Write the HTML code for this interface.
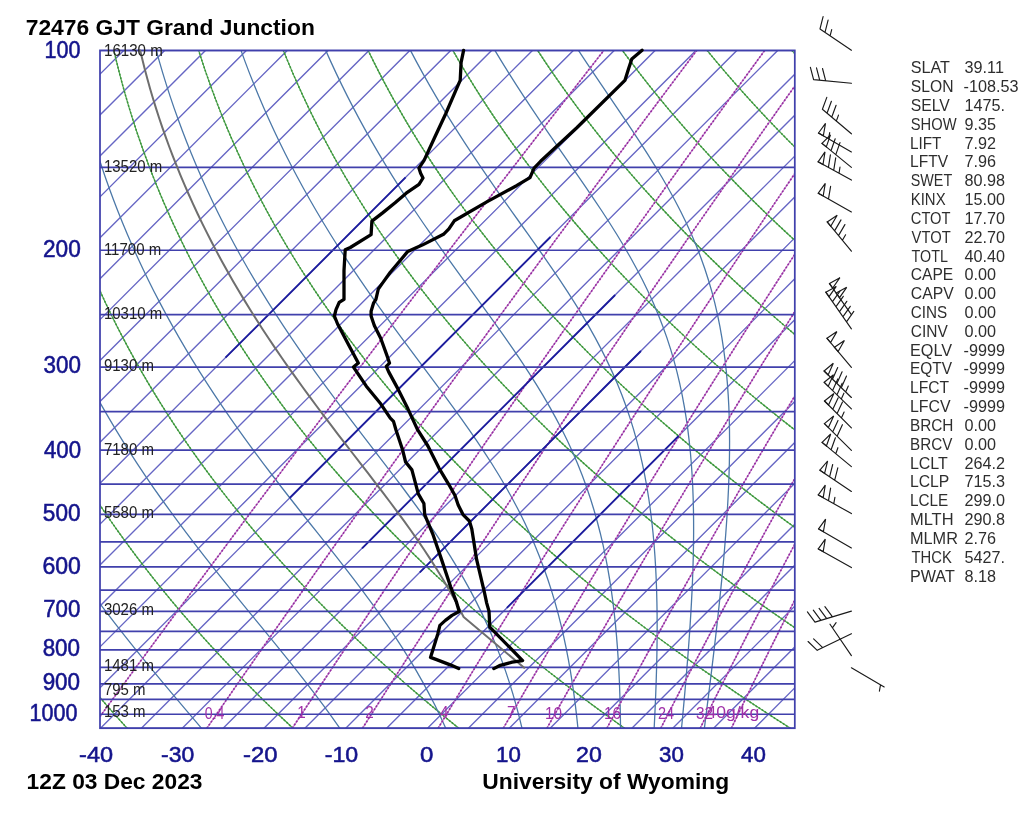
<!DOCTYPE html><html><head><meta charset="utf-8"><title>72476 GJT Grand Junction</title><style>
html,body{margin:0;padding:0;background:#fff;width:1024px;height:814px;overflow:hidden}
svg{display:block;filter:blur(0.3px)}
.t{font-family:"Liberation Sans",Arial,sans-serif}
</style></head><body>
<svg width="1024" height="814" viewBox="0 0 1024 814">
<rect width="1024" height="814" fill="#fff"/>
<defs><clipPath id="c"><rect x="100" y="50.4" width="694.8" height="677.8"/></clipPath></defs>
<g clip-path="url(#c)" fill="none">
<path d="M-635.25 728.2L41.97 50.4M-594.38 728.2L82.85 50.4M-553.5 728.2L123.72 50.4M-512.63 728.2L164.6 50.4M-471.75 728.2L205.47 50.4M-430.88 728.2L246.35 50.4M-390 728.2L287.22 50.4M-349.13 728.2L328.1 50.4M-308.25 728.2L368.97 50.4M-267.38 728.2L409.85 50.4M-226.5 728.2L450.72 50.4M-185.63 728.2L491.6 50.4M-144.75 728.2L532.47 50.4M-103.88 728.2L573.35 50.4M-63 728.2L614.22 50.4M-22.13 728.2L655.1 50.4M18.75 728.2L695.97 50.4M59.62 728.2L736.85 50.4M100.5 728.2L777.72 50.4M141.37 728.2L818.6 50.4M182.25 728.2L859.47 50.4M223.12 728.2L900.35 50.4M264 728.2L941.22 50.4M304.87 728.2L982.1 50.4M345.75 728.2L1022.97 50.4M386.62 728.2L1063.85 50.4M427.5 728.2L1104.72 50.4M468.37 728.2L1145.6 50.4M509.25 728.2L1186.47 50.4M550.12 728.2L1227.35 50.4M591 728.2L1268.22 50.4M631.87 728.2L1309.1 50.4M672.75 728.2L1349.97 50.4M713.62 728.2L1390.85 50.4M754.5 728.2L1431.72 50.4M795.37 728.2L1472.6 50.4M836.25 728.2L1513.47 50.4M877.12 728.2L1554.35 50.4" stroke="#6666c4" stroke-width="1.35"/>
<polyline points="-38.57,728.3 -47.07,716.81 -55.35,705.32 -63.41,693.83 -71.24,682.34 -78.86,670.85 -86.26,659.36 -93.45,647.87 -100.42,636.38 -107.19,624.89 -113.75,613.4 -120.11,601.91 -126.26,590.42 -132.22,578.93 -137.98,567.44 -143.54,555.95 -148.91,544.46 -154.09,532.97 -159.08,521.48 -163.89,509.99 -168.51,498.5 -172.95,487.01 -177.21,475.52 -181.29,464.03 -185.2,452.54 -188.93,441.06 -192.49,429.57 -195.88,418.08 -199.1,406.59 -202.15,395.1 -205.04,383.61 -207.77,372.12 -210.34,360.63 -212.75,349.14 -215,337.65 -217.1,326.16 -219.04,314.67 -220.83,303.18 -222.47,291.69 -223.96,280.2 -225.31,268.71 -226.51,257.22 -227.57,245.73 -228.48,234.24 -229.26,222.75 -229.89,211.26 -230.39,199.77 -230.76,188.28 -230.99,176.79 -231.08,165.3 -231.05,153.81 -230.89,142.32 -230.6,130.83 -230.18,119.34 -229.64,107.85 -228.97,96.36 -228.19,84.87 -227.28,73.38 -226.25,61.89 -225.1,50.4" stroke="#4ea24e" stroke-width="1.2"/>
<polyline points="-38.57,728.3 -47.07,716.81 -55.35,705.32 -63.41,693.83 -71.24,682.34 -78.86,670.85 -86.26,659.36 -93.45,647.87 -100.42,636.38 -107.19,624.89 -113.75,613.4 -120.11,601.91 -126.26,590.42 -132.22,578.93 -137.98,567.44 -143.54,555.95 -148.91,544.46 -154.09,532.97 -159.08,521.48 -163.89,509.99 -168.51,498.5 -172.95,487.01 -177.21,475.52 -181.29,464.03 -185.2,452.54 -188.93,441.06 -192.49,429.57 -195.88,418.08 -199.1,406.59 -202.15,395.1 -205.04,383.61 -207.77,372.12 -210.34,360.63 -212.75,349.14 -215,337.65 -217.1,326.16 -219.04,314.67 -220.83,303.18 -222.47,291.69 -223.96,280.2 -225.31,268.71 -226.51,257.22 -227.57,245.73 -228.48,234.24 -229.26,222.75 -229.89,211.26 -230.39,199.77 -230.76,188.28 -230.99,176.79 -231.08,165.3 -231.05,153.81 -230.89,142.32 -230.6,130.83 -230.18,119.34 -229.64,107.85 -228.97,96.36 -228.19,84.87 -227.28,73.38 -226.25,61.89 -225.1,50.4" stroke="#3a963a" stroke-width="1.5" stroke-dasharray="1.8 1.8"/>
<polyline points="127.22,728.3 116.84,716.81 106.71,705.32 96.82,693.83 87.18,682.34 77.77,670.85 68.59,659.36 59.66,647.87 50.95,636.38 42.47,624.89 34.22,613.4 26.19,601.91 18.38,590.42 10.78,578.93 3.41,567.44 -3.75,555.95 -10.71,544.46 -17.45,532.97 -23.99,521.48 -30.32,509.99 -36.45,498.5 -42.39,487.01 -48.12,475.52 -53.66,464.03 -59.01,452.54 -64.17,441.06 -69.14,429.57 -73.92,418.08 -78.53,406.59 -82.94,395.1 -87.18,383.61 -91.24,372.12 -95.13,360.63 -98.84,349.14 -102.38,337.65 -105.75,326.16 -108.95,314.67 -111.99,303.18 -114.86,291.69 -117.57,280.2 -120.12,268.71 -122.51,257.22 -124.74,245.73 -126.82,234.24 -128.74,222.75 -130.52,211.26 -132.14,199.77 -133.62,188.28 -134.95,176.79 -136.13,165.3 -137.17,153.81 -138.07,142.32 -138.83,130.83 -139.45,119.34 -139.93,107.85 -140.28,96.36 -140.5,84.87 -140.58,73.38 -140.53,61.89 -140.36,50.4" stroke="#4ea24e" stroke-width="1.2"/>
<polyline points="127.22,728.3 116.84,716.81 106.71,705.32 96.82,693.83 87.18,682.34 77.77,670.85 68.59,659.36 59.66,647.87 50.95,636.38 42.47,624.89 34.22,613.4 26.19,601.91 18.38,590.42 10.78,578.93 3.41,567.44 -3.75,555.95 -10.71,544.46 -17.45,532.97 -23.99,521.48 -30.32,509.99 -36.45,498.5 -42.39,487.01 -48.12,475.52 -53.66,464.03 -59.01,452.54 -64.17,441.06 -69.14,429.57 -73.92,418.08 -78.53,406.59 -82.94,395.1 -87.18,383.61 -91.24,372.12 -95.13,360.63 -98.84,349.14 -102.38,337.65 -105.75,326.16 -108.95,314.67 -111.99,303.18 -114.86,291.69 -117.57,280.2 -120.12,268.71 -122.51,257.22 -124.74,245.73 -126.82,234.24 -128.74,222.75 -130.52,211.26 -132.14,199.77 -133.62,188.28 -134.95,176.79 -136.13,165.3 -137.17,153.81 -138.07,142.32 -138.83,130.83 -139.45,119.34 -139.93,107.85 -140.28,96.36 -140.5,84.87 -140.58,73.38 -140.53,61.89 -140.36,50.4" stroke="#3a963a" stroke-width="1.5" stroke-dasharray="1.8 1.8"/>
<polyline points="293.02,728.3 280.76,716.81 268.77,705.32 257.05,693.83 245.59,682.34 234.39,670.85 223.45,659.36 212.76,647.87 202.32,636.38 192.13,624.89 182.18,613.4 172.48,601.91 163.02,590.42 153.79,578.93 144.8,567.44 136.03,555.95 127.5,544.46 119.19,532.97 111.11,521.48 103.25,509.99 95.61,498.5 88.18,487.01 80.97,475.52 73.97,464.03 67.17,452.54 60.59,441.06 54.21,429.57 48.03,418.08 42.05,406.59 36.27,395.1 30.68,383.61 25.28,372.12 20.08,360.63 15.07,349.14 10.24,337.65 5.6,326.16 1.13,314.67 -3.15,303.18 -7.25,291.69 -11.18,280.2 -14.93,268.71 -18.51,257.22 -21.92,245.73 -25.16,234.24 -28.23,222.75 -31.14,211.26 -33.89,199.77 -36.48,188.28 -38.91,176.79 -41.18,165.3 -43.29,153.81 -45.25,142.32 -47.06,130.83 -48.72,119.34 -50.23,107.85 -51.59,96.36 -52.81,84.87 -53.89,73.38 -54.82,61.89 -55.61,50.4" stroke="#4ea24e" stroke-width="1.2"/>
<polyline points="293.02,728.3 280.76,716.81 268.77,705.32 257.05,693.83 245.59,682.34 234.39,670.85 223.45,659.36 212.76,647.87 202.32,636.38 192.13,624.89 182.18,613.4 172.48,601.91 163.02,590.42 153.79,578.93 144.8,567.44 136.03,555.95 127.5,544.46 119.19,532.97 111.11,521.48 103.25,509.99 95.61,498.5 88.18,487.01 80.97,475.52 73.97,464.03 67.17,452.54 60.59,441.06 54.21,429.57 48.03,418.08 42.05,406.59 36.27,395.1 30.68,383.61 25.28,372.12 20.08,360.63 15.07,349.14 10.24,337.65 5.6,326.16 1.13,314.67 -3.15,303.18 -7.25,291.69 -11.18,280.2 -14.93,268.71 -18.51,257.22 -21.92,245.73 -25.16,234.24 -28.23,222.75 -31.14,211.26 -33.89,199.77 -36.48,188.28 -38.91,176.79 -41.18,165.3 -43.29,153.81 -45.25,142.32 -47.06,130.83 -48.72,119.34 -50.23,107.85 -51.59,96.36 -52.81,84.87 -53.89,73.38 -54.82,61.89 -55.61,50.4" stroke="#3a963a" stroke-width="1.5" stroke-dasharray="1.8 1.8"/>
<polyline points="458.81,728.3 444.68,716.81 430.84,705.32 417.28,693.83 404.01,682.34 391.02,670.85 378.31,659.36 365.86,647.87 353.69,636.38 341.79,624.89 330.15,613.4 318.77,601.91 307.66,590.42 296.79,578.93 286.18,567.44 275.82,555.95 265.71,544.46 255.84,532.97 246.21,521.48 236.82,509.99 227.67,498.5 218.75,487.01 210.06,475.52 201.6,464.03 193.36,452.54 185.35,441.06 177.55,429.57 169.98,418.08 162.62,406.59 155.48,395.1 148.54,383.61 141.81,372.12 135.29,360.63 128.97,349.14 122.86,337.65 116.94,326.16 111.22,314.67 105.69,303.18 100.36,291.69 95.22,280.2 90.26,268.71 85.49,257.22 80.91,245.73 76.5,234.24 72.28,222.75 68.23,211.26 64.36,199.77 60.66,188.28 57.14,176.79 53.78,165.3 50.59,153.81 47.57,142.32 44.71,130.83 42.01,119.34 39.48,107.85 37.1,96.36 34.88,84.87 32.81,73.38 30.9,61.89 29.14,50.4" stroke="#4ea24e" stroke-width="1.2"/>
<polyline points="458.81,728.3 444.68,716.81 430.84,705.32 417.28,693.83 404.01,682.34 391.02,670.85 378.31,659.36 365.86,647.87 353.69,636.38 341.79,624.89 330.15,613.4 318.77,601.91 307.66,590.42 296.79,578.93 286.18,567.44 275.82,555.95 265.71,544.46 255.84,532.97 246.21,521.48 236.82,509.99 227.67,498.5 218.75,487.01 210.06,475.52 201.6,464.03 193.36,452.54 185.35,441.06 177.55,429.57 169.98,418.08 162.62,406.59 155.48,395.1 148.54,383.61 141.81,372.12 135.29,360.63 128.97,349.14 122.86,337.65 116.94,326.16 111.22,314.67 105.69,303.18 100.36,291.69 95.22,280.2 90.26,268.71 85.49,257.22 80.91,245.73 76.5,234.24 72.28,222.75 68.23,211.26 64.36,199.77 60.66,188.28 57.14,176.79 53.78,165.3 50.59,153.81 47.57,142.32 44.71,130.83 42.01,119.34 39.48,107.85 37.1,96.36 34.88,84.87 32.81,73.38 30.9,61.89 29.14,50.4" stroke="#3a963a" stroke-width="1.5" stroke-dasharray="1.8 1.8"/>
<polyline points="624.6,728.3 608.6,716.81 592.9,705.32 577.51,693.83 562.43,682.34 547.65,670.85 533.16,659.36 518.97,647.87 505.07,636.38 491.45,624.89 478.12,613.4 465.07,601.91 452.3,590.42 439.8,578.93 427.57,567.44 415.61,555.95 403.91,544.46 392.48,532.97 381.31,521.48 370.39,509.99 359.73,498.5 349.31,487.01 339.15,475.52 329.22,464.03 319.55,452.54 310.11,441.06 300.9,429.57 291.93,418.08 283.19,406.59 274.69,395.1 266.4,383.61 258.34,372.12 250.5,360.63 242.88,349.14 235.48,337.65 228.29,326.16 221.31,314.67 214.54,303.18 207.97,291.69 201.61,280.2 195.45,268.71 189.49,257.22 183.73,245.73 178.16,234.24 172.79,222.75 167.6,211.26 162.61,199.77 157.8,188.28 153.18,176.79 148.73,165.3 144.47,153.81 140.39,142.32 136.48,130.83 132.74,119.34 129.18,107.85 125.79,96.36 122.56,84.87 119.51,73.38 116.61,61.89 113.88,50.4" stroke="#4ea24e" stroke-width="1.2"/>
<polyline points="624.6,728.3 608.6,716.81 592.9,705.32 577.51,693.83 562.43,682.34 547.65,670.85 533.16,659.36 518.97,647.87 505.07,636.38 491.45,624.89 478.12,613.4 465.07,601.91 452.3,590.42 439.8,578.93 427.57,567.44 415.61,555.95 403.91,544.46 392.48,532.97 381.31,521.48 370.39,509.99 359.73,498.5 349.31,487.01 339.15,475.52 329.22,464.03 319.55,452.54 310.11,441.06 300.9,429.57 291.93,418.08 283.19,406.59 274.69,395.1 266.4,383.61 258.34,372.12 250.5,360.63 242.88,349.14 235.48,337.65 228.29,326.16 221.31,314.67 214.54,303.18 207.97,291.69 201.61,280.2 195.45,268.71 189.49,257.22 183.73,245.73 178.16,234.24 172.79,222.75 167.6,211.26 162.61,199.77 157.8,188.28 153.18,176.79 148.73,165.3 144.47,153.81 140.39,142.32 136.48,130.83 132.74,119.34 129.18,107.85 125.79,96.36 122.56,84.87 119.51,73.38 116.61,61.89 113.88,50.4" stroke="#3a963a" stroke-width="1.5" stroke-dasharray="1.8 1.8"/>
<polyline points="790.4,728.3 772.51,716.81 754.97,705.32 737.75,693.83 720.85,682.34 704.27,670.85 688.02,659.36 672.07,647.87 656.44,636.38 641.11,624.89 626.09,613.4 611.36,601.91 596.94,590.42 582.8,578.93 568.95,567.44 555.4,555.95 542.12,544.46 529.12,532.97 516.41,521.48 503.96,509.99 491.79,498.5 479.88,487.01 468.24,475.52 456.85,464.03 445.73,452.54 434.86,441.06 424.25,429.57 413.89,418.08 403.77,406.59 393.89,395.1 384.26,383.61 374.87,372.12 365.71,360.63 356.79,349.14 348.1,337.65 339.63,326.16 331.39,314.67 323.38,303.18 315.58,291.69 308,280.2 300.64,268.71 293.49,257.22 286.55,245.73 279.82,234.24 273.3,222.75 266.98,211.26 260.86,199.77 254.94,188.28 249.22,176.79 243.69,165.3 238.35,153.81 233.2,142.32 228.25,130.83 223.47,119.34 218.89,107.85 214.48,96.36 210.25,84.87 206.2,73.38 202.33,61.89 198.63,50.4" stroke="#4ea24e" stroke-width="1.2"/>
<polyline points="790.4,728.3 772.51,716.81 754.97,705.32 737.75,693.83 720.85,682.34 704.27,670.85 688.02,659.36 672.07,647.87 656.44,636.38 641.11,624.89 626.09,613.4 611.36,601.91 596.94,590.42 582.8,578.93 568.95,567.44 555.4,555.95 542.12,544.46 529.12,532.97 516.41,521.48 503.96,509.99 491.79,498.5 479.88,487.01 468.24,475.52 456.85,464.03 445.73,452.54 434.86,441.06 424.25,429.57 413.89,418.08 403.77,406.59 393.89,395.1 384.26,383.61 374.87,372.12 365.71,360.63 356.79,349.14 348.1,337.65 339.63,326.16 331.39,314.67 323.38,303.18 315.58,291.69 308,280.2 300.64,268.71 293.49,257.22 286.55,245.73 279.82,234.24 273.3,222.75 266.98,211.26 260.86,199.77 254.94,188.28 249.22,176.79 243.69,165.3 238.35,153.81 233.2,142.32 228.25,130.83 223.47,119.34 218.89,107.85 214.48,96.36 210.25,84.87 206.2,73.38 202.33,61.89 198.63,50.4" stroke="#3a963a" stroke-width="1.5" stroke-dasharray="1.8 1.8"/>
<polyline points="956.19,728.3 936.43,716.81 917.03,705.32 897.98,693.83 879.27,682.34 860.9,670.85 842.87,659.36 825.18,647.87 807.81,636.38 790.77,624.89 774.06,613.4 757.66,601.91 741.57,590.42 725.8,578.93 710.34,567.44 695.18,555.95 680.33,544.46 665.77,532.97 651.5,521.48 637.53,509.99 623.84,498.5 610.44,487.01 597.32,475.52 584.48,464.03 571.92,452.54 559.62,441.06 547.6,429.57 535.84,418.08 524.34,406.59 513.1,395.1 502.12,383.61 491.4,372.12 480.92,360.63 470.7,349.14 460.72,337.65 450.98,326.16 441.48,314.67 432.22,303.18 423.19,291.69 414.4,280.2 405.83,268.71 397.49,257.22 389.38,245.73 381.49,234.24 373.81,222.75 366.35,211.26 359.11,199.77 352.08,188.28 345.26,176.79 338.64,165.3 332.23,153.81 326.02,142.32 320.02,130.83 314.21,119.34 308.59,107.85 303.17,96.36 297.94,84.87 292.9,73.38 288.04,61.89 283.37,50.4" stroke="#4ea24e" stroke-width="1.2"/>
<polyline points="956.19,728.3 936.43,716.81 917.03,705.32 897.98,693.83 879.27,682.34 860.9,670.85 842.87,659.36 825.18,647.87 807.81,636.38 790.77,624.89 774.06,613.4 757.66,601.91 741.57,590.42 725.8,578.93 710.34,567.44 695.18,555.95 680.33,544.46 665.77,532.97 651.5,521.48 637.53,509.99 623.84,498.5 610.44,487.01 597.32,475.52 584.48,464.03 571.92,452.54 559.62,441.06 547.6,429.57 535.84,418.08 524.34,406.59 513.1,395.1 502.12,383.61 491.4,372.12 480.92,360.63 470.7,349.14 460.72,337.65 450.98,326.16 441.48,314.67 432.22,303.18 423.19,291.69 414.4,280.2 405.83,268.71 397.49,257.22 389.38,245.73 381.49,234.24 373.81,222.75 366.35,211.26 359.11,199.77 352.08,188.28 345.26,176.79 338.64,165.3 332.23,153.81 326.02,142.32 320.02,130.83 314.21,119.34 308.59,107.85 303.17,96.36 297.94,84.87 292.9,73.38 288.04,61.89 283.37,50.4" stroke="#3a963a" stroke-width="1.5" stroke-dasharray="1.8 1.8"/>
<polyline points="1121.98,728.3 1100.35,716.81 1079.09,705.32 1058.21,693.83 1037.69,682.34 1017.53,670.85 997.73,659.36 978.28,647.87 959.18,636.38 940.43,624.89 922.02,613.4 903.95,601.91 886.21,590.42 868.81,578.93 851.73,567.44 834.97,555.95 818.53,544.46 802.41,532.97 786.6,521.48 771.1,509.99 755.9,498.5 741.01,487.01 726.41,475.52 712.11,464.03 698.1,452.54 684.38,441.06 670.95,429.57 657.79,418.08 644.91,406.59 632.31,395.1 619.99,383.61 607.93,372.12 596.13,360.63 584.6,349.14 573.34,337.65 562.32,326.16 551.57,314.67 541.06,303.18 530.8,291.69 520.79,280.2 511.02,268.71 501.49,257.22 492.2,245.73 483.15,234.24 474.32,222.75 465.73,211.26 457.36,199.77 449.22,188.28 441.3,176.79 433.6,165.3 426.11,153.81 418.84,142.32 411.78,130.83 404.94,119.34 398.3,107.85 391.86,96.36 385.63,84.87 379.59,73.38 373.76,61.89 368.12,50.4" stroke="#4ea24e" stroke-width="1.2"/>
<polyline points="1121.98,728.3 1100.35,716.81 1079.09,705.32 1058.21,693.83 1037.69,682.34 1017.53,670.85 997.73,659.36 978.28,647.87 959.18,636.38 940.43,624.89 922.02,613.4 903.95,601.91 886.21,590.42 868.81,578.93 851.73,567.44 834.97,555.95 818.53,544.46 802.41,532.97 786.6,521.48 771.1,509.99 755.9,498.5 741.01,487.01 726.41,475.52 712.11,464.03 698.1,452.54 684.38,441.06 670.95,429.57 657.79,418.08 644.91,406.59 632.31,395.1 619.99,383.61 607.93,372.12 596.13,360.63 584.6,349.14 573.34,337.65 562.32,326.16 551.57,314.67 541.06,303.18 530.8,291.69 520.79,280.2 511.02,268.71 501.49,257.22 492.2,245.73 483.15,234.24 474.32,222.75 465.73,211.26 457.36,199.77 449.22,188.28 441.3,176.79 433.6,165.3 426.11,153.81 418.84,142.32 411.78,130.83 404.94,119.34 398.3,107.85 391.86,96.36 385.63,84.87 379.59,73.38 373.76,61.89 368.12,50.4" stroke="#3a963a" stroke-width="1.5" stroke-dasharray="1.8 1.8"/>
<polyline points="1287.77,728.3 1264.27,716.81 1241.16,705.32 1218.44,693.83 1196.1,682.34 1174.15,670.85 1152.58,659.36 1131.38,647.87 1110.56,636.38 1090.09,624.89 1069.99,613.4 1050.25,601.91 1030.85,590.42 1011.81,578.93 993.11,567.44 974.76,555.95 956.74,544.46 939.05,532.97 921.7,521.48 904.67,509.99 887.96,498.5 871.58,487.01 855.5,475.52 839.74,464.03 824.29,452.54 809.14,441.06 794.29,429.57 779.74,418.08 765.49,406.59 751.52,395.1 737.85,383.61 724.46,372.12 711.34,360.63 698.51,349.14 685.95,337.65 673.67,326.16 661.65,314.67 649.9,303.18 638.41,291.69 627.18,280.2 616.21,268.71 605.49,257.22 595.03,245.73 584.81,234.24 574.83,222.75 565.1,211.26 555.61,199.77 546.36,188.28 537.34,176.79 528.55,165.3 519.99,153.81 511.66,142.32 503.55,130.83 495.67,119.34 488,107.85 480.55,96.36 473.31,84.87 466.29,73.38 459.47,61.89 452.86,50.4" stroke="#4ea24e" stroke-width="1.2"/>
<polyline points="1287.77,728.3 1264.27,716.81 1241.16,705.32 1218.44,693.83 1196.1,682.34 1174.15,670.85 1152.58,659.36 1131.38,647.87 1110.56,636.38 1090.09,624.89 1069.99,613.4 1050.25,601.91 1030.85,590.42 1011.81,578.93 993.11,567.44 974.76,555.95 956.74,544.46 939.05,532.97 921.7,521.48 904.67,509.99 887.96,498.5 871.58,487.01 855.5,475.52 839.74,464.03 824.29,452.54 809.14,441.06 794.29,429.57 779.74,418.08 765.49,406.59 751.52,395.1 737.85,383.61 724.46,372.12 711.34,360.63 698.51,349.14 685.95,337.65 673.67,326.16 661.65,314.67 649.9,303.18 638.41,291.69 627.18,280.2 616.21,268.71 605.49,257.22 595.03,245.73 584.81,234.24 574.83,222.75 565.1,211.26 555.61,199.77 546.36,188.28 537.34,176.79 528.55,165.3 519.99,153.81 511.66,142.32 503.55,130.83 495.67,119.34 488,107.85 480.55,96.36 473.31,84.87 466.29,73.38 459.47,61.89 452.86,50.4" stroke="#3a963a" stroke-width="1.5" stroke-dasharray="1.8 1.8"/>
<polyline points="1453.57,728.3 1428.18,716.81 1403.22,705.32 1378.67,693.83 1354.52,682.34 1330.78,670.85 1307.44,659.36 1284.49,647.87 1261.93,636.38 1239.75,624.89 1217.96,613.4 1196.54,601.91 1175.49,590.42 1154.82,578.93 1134.5,567.44 1114.55,555.95 1094.95,544.46 1075.7,532.97 1056.8,521.48 1038.24,509.99 1020.02,498.5 1002.14,487.01 984.59,475.52 967.37,464.03 950.47,452.54 933.9,441.06 917.64,429.57 901.7,418.08 886.06,406.59 870.73,395.1 855.71,383.61 840.98,372.12 826.56,360.63 812.42,349.14 798.57,337.65 785.01,326.16 771.74,314.67 758.74,303.18 746.02,291.69 733.58,280.2 721.4,268.71 709.49,257.22 697.85,245.73 686.47,234.24 675.34,222.75 664.48,211.26 653.86,199.77 643.5,188.28 633.38,176.79 623.51,165.3 613.87,153.81 604.48,142.32 595.32,130.83 586.4,119.34 577.71,107.85 569.24,96.36 561,84.87 552.98,73.38 545.19,61.89 537.61,50.4" stroke="#4ea24e" stroke-width="1.2"/>
<polyline points="1453.57,728.3 1428.18,716.81 1403.22,705.32 1378.67,693.83 1354.52,682.34 1330.78,670.85 1307.44,659.36 1284.49,647.87 1261.93,636.38 1239.75,624.89 1217.96,613.4 1196.54,601.91 1175.49,590.42 1154.82,578.93 1134.5,567.44 1114.55,555.95 1094.95,544.46 1075.7,532.97 1056.8,521.48 1038.24,509.99 1020.02,498.5 1002.14,487.01 984.59,475.52 967.37,464.03 950.47,452.54 933.9,441.06 917.64,429.57 901.7,418.08 886.06,406.59 870.73,395.1 855.71,383.61 840.98,372.12 826.56,360.63 812.42,349.14 798.57,337.65 785.01,326.16 771.74,314.67 758.74,303.18 746.02,291.69 733.58,280.2 721.4,268.71 709.49,257.22 697.85,245.73 686.47,234.24 675.34,222.75 664.48,211.26 653.86,199.77 643.5,188.28 633.38,176.79 623.51,165.3 613.87,153.81 604.48,142.32 595.32,130.83 586.4,119.34 577.71,107.85 569.24,96.36 561,84.87 552.98,73.38 545.19,61.89 537.61,50.4" stroke="#3a963a" stroke-width="1.5" stroke-dasharray="1.8 1.8"/>
<polyline points="1619.36,728.3 1592.1,716.81 1565.28,705.32 1538.9,693.83 1512.94,682.34 1487.41,670.85 1462.29,659.36 1437.59,647.87 1413.3,636.38 1389.41,624.89 1365.93,613.4 1342.83,601.91 1320.13,590.42 1297.82,578.93 1275.89,567.44 1254.33,555.95 1233.15,544.46 1212.34,532.97 1191.9,521.48 1171.81,509.99 1152.08,498.5 1132.71,487.01 1113.68,475.52 1095,464.03 1076.66,452.54 1058.66,441.06 1040.99,429.57 1023.65,418.08 1006.63,406.59 989.94,395.1 973.57,383.61 957.51,372.12 941.77,360.63 926.33,349.14 911.19,337.65 896.36,326.16 881.82,314.67 867.58,303.18 853.63,291.69 839.97,280.2 826.59,268.71 813.49,257.22 800.67,245.73 788.13,234.24 775.86,222.75 763.85,211.26 752.11,199.77 740.64,188.28 729.42,176.79 718.46,165.3 707.75,153.81 697.3,142.32 687.09,130.83 677.13,119.34 667.41,107.85 657.93,96.36 648.69,84.87 639.68,73.38 630.9,61.89 622.36,50.4" stroke="#4ea24e" stroke-width="1.2"/>
<polyline points="1619.36,728.3 1592.1,716.81 1565.28,705.32 1538.9,693.83 1512.94,682.34 1487.41,670.85 1462.29,659.36 1437.59,647.87 1413.3,636.38 1389.41,624.89 1365.93,613.4 1342.83,601.91 1320.13,590.42 1297.82,578.93 1275.89,567.44 1254.33,555.95 1233.15,544.46 1212.34,532.97 1191.9,521.48 1171.81,509.99 1152.08,498.5 1132.71,487.01 1113.68,475.52 1095,464.03 1076.66,452.54 1058.66,441.06 1040.99,429.57 1023.65,418.08 1006.63,406.59 989.94,395.1 973.57,383.61 957.51,372.12 941.77,360.63 926.33,349.14 911.19,337.65 896.36,326.16 881.82,314.67 867.58,303.18 853.63,291.69 839.97,280.2 826.59,268.71 813.49,257.22 800.67,245.73 788.13,234.24 775.86,222.75 763.85,211.26 752.11,199.77 740.64,188.28 729.42,176.79 718.46,165.3 707.75,153.81 697.3,142.32 687.09,130.83 677.13,119.34 667.41,107.85 657.93,96.36 648.69,84.87 639.68,73.38 630.9,61.89 622.36,50.4" stroke="#3a963a" stroke-width="1.5" stroke-dasharray="1.8 1.8"/>
<polyline points="1785.15,728.3 1756.02,716.81 1727.35,705.32 1699.13,693.83 1671.36,682.34 1644.04,670.85 1617.15,659.36 1590.7,647.87 1564.67,636.38 1539.07,624.89 1513.89,613.4 1489.13,601.91 1464.77,590.42 1440.82,578.93 1417.27,567.44 1394.12,555.95 1371.36,544.46 1348.99,532.97 1326.99,521.48 1305.38,509.99 1284.14,498.5 1263.27,487.01 1242.77,475.52 1222.63,464.03 1202.85,452.54 1183.42,441.06 1164.34,429.57 1145.6,418.08 1127.21,406.59 1109.15,395.1 1091.43,383.61 1074.04,372.12 1056.98,360.63 1040.23,349.14 1023.81,337.65 1007.71,326.16 991.91,314.67 976.42,303.18 961.24,291.69 946.36,280.2 931.78,268.71 917.49,257.22 903.5,245.73 889.79,234.24 876.37,222.75 863.23,211.26 850.36,199.77 837.78,188.28 825.46,176.79 813.41,165.3 801.63,153.81 790.12,142.32 778.86,130.83 767.86,119.34 757.12,107.85 746.62,96.36 736.38,84.87 726.38,73.38 716.62,61.89 707.1,50.4" stroke="#4ea24e" stroke-width="1.2"/>
<polyline points="1785.15,728.3 1756.02,716.81 1727.35,705.32 1699.13,693.83 1671.36,682.34 1644.04,670.85 1617.15,659.36 1590.7,647.87 1564.67,636.38 1539.07,624.89 1513.89,613.4 1489.13,601.91 1464.77,590.42 1440.82,578.93 1417.27,567.44 1394.12,555.95 1371.36,544.46 1348.99,532.97 1326.99,521.48 1305.38,509.99 1284.14,498.5 1263.27,487.01 1242.77,475.52 1222.63,464.03 1202.85,452.54 1183.42,441.06 1164.34,429.57 1145.6,418.08 1127.21,406.59 1109.15,395.1 1091.43,383.61 1074.04,372.12 1056.98,360.63 1040.23,349.14 1023.81,337.65 1007.71,326.16 991.91,314.67 976.42,303.18 961.24,291.69 946.36,280.2 931.78,268.71 917.49,257.22 903.5,245.73 889.79,234.24 876.37,222.75 863.23,211.26 850.36,199.77 837.78,188.28 825.46,176.79 813.41,165.3 801.63,153.81 790.12,142.32 778.86,130.83 767.86,119.34 757.12,107.85 746.62,96.36 736.38,84.87 726.38,73.38 716.62,61.89 707.1,50.4" stroke="#3a963a" stroke-width="1.5" stroke-dasharray="1.8 1.8"/>
<polyline points="1950.94,728.3 1919.94,716.81 1889.41,705.32 1859.36,693.83 1829.78,682.34 1800.66,670.85 1772,659.36 1743.8,647.87 1716.05,636.38 1688.73,624.89 1661.86,613.4 1635.42,601.91 1609.41,590.42 1583.83,578.93 1558.66,567.44 1533.91,555.95 1509.57,544.46 1485.63,532.97 1462.09,521.48 1438.95,509.99 1416.2,498.5 1393.84,487.01 1371.86,475.52 1350.26,464.03 1329.03,452.54 1308.17,441.06 1287.68,429.57 1267.55,418.08 1247.78,406.59 1228.36,395.1 1209.29,383.61 1190.57,372.12 1172.19,360.63 1154.14,349.14 1136.43,337.65 1119.05,326.16 1102,314.67 1085.26,303.18 1068.85,291.69 1052.76,280.2 1036.97,268.71 1021.49,257.22 1006.32,245.73 991.45,234.24 976.88,222.75 962.6,211.26 948.61,199.77 934.92,188.28 921.5,176.79 908.37,165.3 895.52,153.81 882.94,142.32 870.63,130.83 858.59,119.34 846.82,107.85 835.31,96.36 824.06,84.87 813.07,73.38 802.33,61.89 791.85,50.4" stroke="#4ea24e" stroke-width="1.2"/>
<polyline points="1950.94,728.3 1919.94,716.81 1889.41,705.32 1859.36,693.83 1829.78,682.34 1800.66,670.85 1772,659.36 1743.8,647.87 1716.05,636.38 1688.73,624.89 1661.86,613.4 1635.42,601.91 1609.41,590.42 1583.83,578.93 1558.66,567.44 1533.91,555.95 1509.57,544.46 1485.63,532.97 1462.09,521.48 1438.95,509.99 1416.2,498.5 1393.84,487.01 1371.86,475.52 1350.26,464.03 1329.03,452.54 1308.17,441.06 1287.68,429.57 1267.55,418.08 1247.78,406.59 1228.36,395.1 1209.29,383.61 1190.57,372.12 1172.19,360.63 1154.14,349.14 1136.43,337.65 1119.05,326.16 1102,314.67 1085.26,303.18 1068.85,291.69 1052.76,280.2 1036.97,268.71 1021.49,257.22 1006.32,245.73 991.45,234.24 976.88,222.75 962.6,211.26 948.61,199.77 934.92,188.28 921.5,176.79 908.37,165.3 895.52,153.81 882.94,142.32 870.63,130.83 858.59,119.34 846.82,107.85 835.31,96.36 824.06,84.87 813.07,73.38 802.33,61.89 791.85,50.4" stroke="#3a963a" stroke-width="1.5" stroke-dasharray="1.8 1.8"/>
<polyline points="2116.74,728.3 2083.85,716.81 2051.47,705.32 2019.59,693.83 1988.2,682.34 1957.29,670.85 1926.86,659.36 1896.9,647.87 1867.42,636.38 1838.4,624.89 1809.83,613.4 1781.72,601.91 1754.05,590.42 1726.83,578.93 1700.05,567.44 1673.7,555.95 1647.77,544.46 1622.27,532.97 1597.19,521.48 1572.52,509.99 1548.26,498.5 1524.41,487.01 1500.95,475.52 1477.89,464.03 1455.22,452.54 1432.93,441.06 1411.03,429.57 1389.51,418.08 1368.35,406.59 1347.57,395.1 1327.15,383.61 1307.1,372.12 1287.4,360.63 1268.05,349.14 1249.05,337.65 1230.4,326.16 1212.08,314.67 1194.11,303.18 1176.46,291.69 1159.15,280.2 1142.16,268.71 1125.49,257.22 1109.15,245.73 1093.11,234.24 1077.39,222.75 1061.98,211.26 1046.86,199.77 1032.05,188.28 1017.54,176.79 1003.32,165.3 989.4,153.81 975.76,142.32 962.4,130.83 949.32,119.34 936.53,107.85 924,96.36 911.75,84.87 899.77,73.38 888.05,61.89 876.59,50.4" stroke="#4ea24e" stroke-width="1.2"/>
<polyline points="2116.74,728.3 2083.85,716.81 2051.47,705.32 2019.59,693.83 1988.2,682.34 1957.29,670.85 1926.86,659.36 1896.9,647.87 1867.42,636.38 1838.4,624.89 1809.83,613.4 1781.72,601.91 1754.05,590.42 1726.83,578.93 1700.05,567.44 1673.7,555.95 1647.77,544.46 1622.27,532.97 1597.19,521.48 1572.52,509.99 1548.26,498.5 1524.41,487.01 1500.95,475.52 1477.89,464.03 1455.22,452.54 1432.93,441.06 1411.03,429.57 1389.51,418.08 1368.35,406.59 1347.57,395.1 1327.15,383.61 1307.1,372.12 1287.4,360.63 1268.05,349.14 1249.05,337.65 1230.4,326.16 1212.08,314.67 1194.11,303.18 1176.46,291.69 1159.15,280.2 1142.16,268.71 1125.49,257.22 1109.15,245.73 1093.11,234.24 1077.39,222.75 1061.98,211.26 1046.86,199.77 1032.05,188.28 1017.54,176.79 1003.32,165.3 989.4,153.81 975.76,142.32 962.4,130.83 949.32,119.34 936.53,107.85 924,96.36 911.75,84.87 899.77,73.38 888.05,61.89 876.59,50.4" stroke="#3a963a" stroke-width="1.5" stroke-dasharray="1.8 1.8"/>
<polyline points="201.61,728.3 191.84,716.81 182.08,705.32 172.36,693.83 162.71,682.34 153.14,670.85 143.68,659.36 134.36,647.87 125.18,636.38 116.16,624.89 107.31,613.4 98.64,601.91 90.16,590.42 81.88,578.93 73.79,567.44 65.9,555.95 58.22,544.46 50.74,532.97 43.46,521.48 36.39,509.99 29.52,498.5 22.86,487.01 16.39,475.52 10.13,464.03 4.07,452.54 -1.8,441.06 -7.47,429.57 -12.95,418.08 -18.24,406.59 -23.34,395.1 -28.25,383.61 -32.98,372.12 -37.52,360.63 -41.89,349.14 -46.07,337.65 -50.08,326.16 -53.91,314.67 -57.57,303.18 -61.05,291.69 -64.37,280.2 -67.52,268.71 -70.51,257.22 -73.33,245.73 -75.99,234.24 -78.49,222.75 -80.83,211.26 -83.02,199.77 -85.05,188.28 -86.93,176.79 -88.65,165.3 -90.23,153.81 -91.66,142.32 -92.95,130.83 -94.09,119.34 -95.08,107.85 -95.94,96.36 -96.65,84.87 -97.23,73.38 -97.68,61.89 -97.98,50.4" stroke="#4c78a8" stroke-width="1.3"/>
<polyline points="339.92,728.3 331.8,716.81 323.41,705.32 314.79,693.83 305.95,682.34 296.93,670.85 287.77,659.36 278.48,647.87 269.12,636.38 259.71,624.89 250.29,613.4 240.89,601.91 231.54,590.42 222.27,578.93 213.09,567.44 204.04,555.95 195.13,544.46 186.36,532.97 177.77,521.48 169.35,509.99 161.11,498.5 153.06,487.01 145.21,475.52 137.55,464.03 130.09,452.54 122.84,441.06 115.78,429.57 108.93,418.08 102.28,406.59 95.83,395.1 89.58,383.61 83.53,372.12 77.67,360.63 72.01,349.14 66.54,337.65 61.26,326.16 56.17,314.67 51.27,303.18 46.55,291.69 42.02,280.2 37.67,268.71 33.49,257.22 29.49,245.73 25.67,234.24 22.02,222.75 18.54,211.26 15.23,199.77 12.09,188.28 9.11,176.79 6.3,165.3 3.65,153.81 1.16,142.32 -1.18,130.83 -3.35,119.34 -5.38,107.85 -7.25,96.36 -8.97,84.87 -10.54,73.38 -11.96,61.89 -13.24,50.4" stroke="#4c78a8" stroke-width="1.3"/>
<polyline points="445.74,728.3 440.51,716.81 434.96,705.32 429.09,693.83 422.9,682.34 416.38,670.85 409.53,659.36 402.36,647.87 394.88,636.38 387.1,624.89 379.06,613.4 370.76,601.91 362.24,590.42 353.53,578.93 344.67,567.44 335.7,555.95 326.64,544.46 317.54,532.97 308.42,521.48 299.33,509.99 290.3,498.5 281.34,487.01 272.49,475.52 263.76,464.03 255.16,452.54 246.73,441.06 238.46,429.57 230.37,418.08 222.46,406.59 214.74,395.1 207.22,383.61 199.89,372.12 192.75,360.63 185.82,349.14 179.09,337.65 172.56,326.16 166.22,314.67 160.08,303.18 154.14,291.69 148.4,280.2 142.85,268.71 137.48,257.22 132.31,245.73 127.33,234.24 122.53,222.75 117.92,211.26 113.48,199.77 109.23,188.28 105.15,176.79 101.26,165.3 97.53,153.81 93.98,142.32 90.59,130.83 87.38,119.34 84.33,107.85 81.44,96.36 78.72,84.87 76.16,73.38 73.75,61.89 71.51,50.4" stroke="#4c78a8" stroke-width="1.3"/>
<polyline points="522.05,728.3 519.21,716.81 516.16,705.32 512.86,693.83 509.32,682.34 505.5,670.85 501.4,659.36 497.01,647.87 492.31,636.38 487.29,624.89 481.93,613.4 476.25,601.91 470.22,590.42 463.85,578.93 457.15,567.44 450.12,555.95 442.78,544.46 435.14,532.97 427.23,521.48 419.09,509.99 410.73,498.5 402.21,487.01 393.55,475.52 384.79,464.03 375.97,452.54 367.13,441.06 358.31,429.57 349.52,418.08 340.81,406.59 332.2,395.1 323.7,383.61 315.34,372.12 307.14,360.63 299.09,349.14 291.22,337.65 283.53,326.16 276.03,314.67 268.71,303.18 261.59,291.69 254.67,280.2 247.95,268.71 241.42,257.22 235.09,245.73 228.95,234.24 223.02,222.75 217.27,211.26 211.72,199.77 206.36,188.28 201.19,176.79 196.21,165.3 191.41,153.81 186.79,142.32 182.36,130.83 178.11,119.34 174.03,107.85 170.13,96.36 166.41,84.87 162.85,73.38 159.47,61.89 156.25,50.4" stroke="#4c78a8" stroke-width="1.3"/>
<polyline points="577.95,728.3 576.74,716.81 575.38,705.32 573.88,693.83 572.21,682.34 570.37,670.85 568.34,659.36 566.11,647.87 563.66,636.38 560.98,624.89 558.06,613.4 554.88,601.91 551.42,590.42 547.68,578.93 543.63,567.44 539.26,555.95 534.56,544.46 529.52,532.97 524.13,521.48 518.39,509.99 512.3,498.5 505.87,487.01 499.1,475.52 492,464.03 484.61,452.54 476.94,441.06 469.02,429.57 460.9,418.08 452.6,406.59 444.17,395.1 435.65,383.61 427.08,372.12 418.49,360.63 409.91,349.14 401.39,337.65 392.94,326.16 384.6,314.67 376.37,303.18 368.29,291.69 360.36,280.2 352.6,268.71 345.01,257.22 337.6,245.73 330.38,234.24 323.35,222.75 316.52,211.26 309.87,199.77 303.43,188.28 297.18,176.79 291.12,165.3 285.26,153.81 279.59,142.32 274.12,130.83 268.83,119.34 263.73,107.85 258.82,96.36 254.09,84.87 249.55,73.38 245.18,61.89 241,50.4" stroke="#4c78a8" stroke-width="1.3"/>
<polyline points="620.53,728.3 620.38,716.81 620.15,705.32 619.82,693.83 619.4,682.34 618.87,670.85 618.22,659.36 617.45,647.87 616.54,636.38 615.49,624.89 614.27,613.4 612.89,601.91 611.32,590.42 609.55,578.93 607.57,567.44 605.36,555.95 602.92,544.46 600.21,532.97 597.23,521.48 593.97,509.99 590.4,498.5 586.51,487.01 582.28,475.52 577.72,464.03 572.79,452.54 567.51,441.06 561.87,429.57 555.87,418.08 549.51,406.59 542.82,395.1 535.81,383.61 528.5,372.12 520.92,360.63 513.12,349.14 505.12,337.65 496.97,326.16 488.71,314.67 480.37,303.18 472.01,291.69 463.65,280.2 455.33,268.71 447.07,257.22 438.91,245.73 430.87,234.24 422.96,222.75 415.19,211.26 407.59,199.77 400.16,188.28 392.91,176.79 385.85,165.3 378.97,153.81 372.28,142.32 365.79,130.83 359.49,119.34 353.39,107.85 347.47,96.36 341.75,84.87 336.22,73.38 330.89,61.89 325.74,50.4" stroke="#4c78a8" stroke-width="1.3"/>
<polyline points="654.16,728.3 654.73,716.81 655.26,705.32 655.74,693.83 656.15,682.34 656.5,670.85 656.79,659.36 656.99,647.87 657.12,636.38 657.15,624.89 657.08,613.4 656.9,601.91 656.61,590.42 656.19,578.93 655.64,567.44 654.93,555.95 654.07,544.46 653.03,532.97 651.81,521.48 650.39,509.99 648.76,498.5 646.9,487.01 644.8,475.52 642.44,464.03 639.8,452.54 636.86,441.06 633.62,429.57 630.06,418.08 626.15,406.59 621.89,395.1 617.28,383.61 612.29,372.12 606.93,360.63 601.21,349.14 595.12,337.65 588.68,326.16 581.91,314.67 574.84,303.18 567.49,291.69 559.91,280.2 552.12,268.71 544.18,257.22 536.13,245.73 528,234.24 519.84,222.75 511.69,211.26 503.57,199.77 495.52,188.28 487.57,176.79 479.73,165.3 472.03,153.81 464.47,142.32 457.08,130.83 449.86,119.34 442.82,107.85 435.96,96.36 429.29,84.87 422.81,73.38 416.52,61.89 410.42,50.4" stroke="#4c78a8" stroke-width="1.3"/>
<polyline points="681.54,728.3 682.62,716.81 683.68,705.32 684.72,693.83 685.72,682.34 686.69,670.85 687.62,659.36 688.5,647.87 689.33,636.38 690.11,624.89 690.83,613.4 691.48,601.91 692.06,590.42 692.56,578.93 692.97,567.44 693.29,555.95 693.51,544.46 693.62,532.97 693.6,521.48 693.46,509.99 693.17,498.5 692.74,487.01 692.13,475.52 691.36,464.03 690.39,452.54 689.22,441.06 687.83,429.57 686.2,418.08 684.32,406.59 682.18,395.1 679.75,383.61 677.02,372.12 673.97,360.63 670.58,349.14 666.85,337.65 662.75,326.16 658.28,314.67 653.44,303.18 648.22,291.69 642.61,280.2 636.64,268.71 630.32,257.22 623.67,245.73 616.71,234.24 609.49,222.75 602.04,211.26 594.39,199.77 586.6,188.28 578.71,176.79 570.75,165.3 562.78,153.81 554.82,142.32 546.91,130.83 539.08,119.34 531.36,107.85 523.75,96.36 516.29,84.87 508.98,73.38 501.84,61.89 494.87,50.4" stroke="#4c78a8" stroke-width="1.3"/>
<polyline points="704.37,728.3 705.83,716.81 707.28,705.32 708.72,693.83 710.15,682.34 711.56,670.85 712.95,659.36 714.32,647.87 715.66,636.38 716.97,624.89 718.25,613.4 719.48,601.91 720.68,590.42 721.82,578.93 722.92,567.44 723.95,555.95 724.92,544.46 725.82,532.97 726.64,521.48 727.37,509.99 728.02,498.5 728.57,487.01 729,475.52 729.33,464.03 729.52,452.54 729.58,441.06 729.49,429.57 729.24,418.08 728.82,406.59 728.21,395.1 727.4,383.61 726.38,372.12 725.13,360.63 723.63,349.14 721.87,337.65 719.83,326.16 717.49,314.67 714.83,303.18 711.84,291.69 708.5,280.2 704.8,268.71 700.72,257.22 696.26,245.73 691.41,234.24 686.18,222.75 680.57,211.26 674.58,199.77 668.25,188.28 661.6,176.79 654.66,165.3 647.47,153.81 640.07,142.32 632.51,130.83 624.82,119.34 617.06,107.85 609.26,96.36 601.47,84.87 593.71,73.38 586.03,61.89 578.44,50.4" stroke="#4c78a8" stroke-width="1.3"/>
<polyline points="91.41,728.3 99.79,716.81 108.18,705.32 116.59,693.83 125.01,682.34 133.44,670.85 141.87,659.36 150.33,647.87 158.79,636.38 167.26,624.89 175.75,613.4 184.24,601.91 192.75,590.42 201.26,578.93 209.79,567.44 218.33,555.95 226.88,544.46 235.44,532.97 244.01,521.48 252.59,509.99 261.18,498.5 269.79,487.01 278.4,475.52 287.02,464.03 295.65,452.54 304.3,441.06 312.95,429.57 321.61,418.08 330.29,406.59 338.97,395.1 347.66,383.61 356.37,372.12 365.08,360.63 373.8,349.14 382.53,337.65 391.28,326.16 400.03,314.67 408.79,303.18 417.56,291.69 426.34,280.2 435.13,268.71 443.93,257.22 452.74,245.73 461.56,234.24 470.38,222.75 479.22,211.26 488.06,199.77 496.92,188.28 505.78,176.79 514.65,165.3 523.53,153.81 532.42,142.32 541.32,130.83 550.23,119.34 559.15,107.85 568.07,96.36 577.01,84.87 585.95,73.38 594.9,61.89 603.86,50.4" stroke="#c285ca" stroke-width="1.25"/>
<polyline points="91.41,728.3 99.79,716.81 108.18,705.32 116.59,693.83 125.01,682.34 133.44,670.85 141.87,659.36 150.33,647.87 158.79,636.38 167.26,624.89 175.75,613.4 184.24,601.91 192.75,590.42 201.26,578.93 209.79,567.44 218.33,555.95 226.88,544.46 235.44,532.97 244.01,521.48 252.59,509.99 261.18,498.5 269.79,487.01 278.4,475.52 287.02,464.03 295.65,452.54 304.3,441.06 312.95,429.57 321.61,418.08 330.29,406.59 338.97,395.1 347.66,383.61 356.37,372.12 365.08,360.63 373.8,349.14 382.53,337.65 391.28,326.16 400.03,314.67 408.79,303.18 417.56,291.69 426.34,280.2 435.13,268.71 443.93,257.22 452.74,245.73 461.56,234.24 470.38,222.75 479.22,211.26 488.06,199.77 496.92,188.28 505.78,176.79 514.65,165.3 523.53,153.81 532.42,142.32 541.32,130.83 550.23,119.34 559.15,107.85 568.07,96.36 577.01,84.87 585.95,73.38 594.9,61.89 603.86,50.4" stroke="#962aa0" stroke-width="1.65" stroke-dasharray="1.8 1.8"/>
<polyline points="206.78,728.3 214.72,716.81 222.67,705.32 230.63,693.83 238.61,682.34 246.6,670.85 254.61,659.36 262.63,647.87 270.66,636.38 278.71,624.89 286.77,613.4 294.84,601.91 302.93,590.42 311.03,578.93 319.14,567.44 327.27,555.95 335.41,544.46 343.56,532.97 351.73,521.48 359.91,509.99 368.1,498.5 376.3,487.01 384.52,475.52 392.75,464.03 400.99,452.54 409.24,441.06 417.51,429.57 425.79,418.08 434.08,406.59 442.38,395.1 450.69,383.61 459.02,372.12 467.36,360.63 475.71,349.14 484.07,337.65 492.44,326.16 500.83,314.67 509.23,303.18 517.63,291.69 526.05,280.2 534.49,268.71 542.93,257.22 551.38,245.73 559.85,234.24 568.32,222.75 576.81,211.26 585.31,199.77 593.81,188.28 602.33,176.79 610.86,165.3 619.41,153.81 627.96,142.32 636.52,130.83 645.09,119.34 653.68,107.85 662.27,96.36 670.88,84.87 679.49,73.38 688.12,61.89 696.75,50.4" stroke="#c285ca" stroke-width="1.25"/>
<polyline points="206.78,728.3 214.72,716.81 222.67,705.32 230.63,693.83 238.61,682.34 246.6,670.85 254.61,659.36 262.63,647.87 270.66,636.38 278.71,624.89 286.77,613.4 294.84,601.91 302.93,590.42 311.03,578.93 319.14,567.44 327.27,555.95 335.41,544.46 343.56,532.97 351.73,521.48 359.91,509.99 368.1,498.5 376.3,487.01 384.52,475.52 392.75,464.03 400.99,452.54 409.24,441.06 417.51,429.57 425.79,418.08 434.08,406.59 442.38,395.1 450.69,383.61 459.02,372.12 467.36,360.63 475.71,349.14 484.07,337.65 492.44,326.16 500.83,314.67 509.23,303.18 517.63,291.69 526.05,280.2 534.49,268.71 542.93,257.22 551.38,245.73 559.85,234.24 568.32,222.75 576.81,211.26 585.31,199.77 593.81,188.28 602.33,176.79 610.86,165.3 619.41,153.81 627.96,142.32 636.52,130.83 645.09,119.34 653.68,107.85 662.27,96.36 670.88,84.87 679.49,73.38 688.12,61.89 696.75,50.4" stroke="#962aa0" stroke-width="1.65" stroke-dasharray="1.8 1.8"/>
<polyline points="292.23,728.3 299.82,716.81 307.42,705.32 315.04,693.83 322.67,682.34 330.33,670.85 337.99,659.36 345.67,647.87 353.37,636.38 361.09,624.89 368.82,613.4 376.56,601.91 384.32,590.42 392.1,578.93 399.89,567.44 407.69,555.95 415.51,544.46 423.35,532.97 431.2,521.48 439.06,509.99 446.94,498.5 454.83,487.01 462.74,475.52 470.67,464.03 478.6,452.54 486.55,441.06 494.52,429.57 502.5,418.08 510.49,406.59 518.5,395.1 526.52,383.61 534.55,372.12 542.6,360.63 550.66,349.14 558.73,337.65 566.82,326.16 574.92,314.67 583.04,303.18 591.16,291.69 599.3,280.2 607.46,268.71 615.62,257.22 623.8,245.73 631.99,234.24 640.2,222.75 648.41,211.26 656.64,199.77 664.89,188.28 673.14,176.79 681.41,165.3 689.68,153.81 697.98,142.32 706.28,130.83 714.59,119.34 722.92,107.85 731.26,96.36 739.61,84.87 747.97,73.38 756.35,61.89 764.73,50.4" stroke="#c285ca" stroke-width="1.25"/>
<polyline points="292.23,728.3 299.82,716.81 307.42,705.32 315.04,693.83 322.67,682.34 330.33,670.85 337.99,659.36 345.67,647.87 353.37,636.38 361.09,624.89 368.82,613.4 376.56,601.91 384.32,590.42 392.1,578.93 399.89,567.44 407.69,555.95 415.51,544.46 423.35,532.97 431.2,521.48 439.06,509.99 446.94,498.5 454.83,487.01 462.74,475.52 470.67,464.03 478.6,452.54 486.55,441.06 494.52,429.57 502.5,418.08 510.49,406.59 518.5,395.1 526.52,383.61 534.55,372.12 542.6,360.63 550.66,349.14 558.73,337.65 566.82,326.16 574.92,314.67 583.04,303.18 591.16,291.69 599.3,280.2 607.46,268.71 615.62,257.22 623.8,245.73 631.99,234.24 640.2,222.75 648.41,211.26 656.64,199.77 664.89,188.28 673.14,176.79 681.41,165.3 689.68,153.81 697.98,142.32 706.28,130.83 714.59,119.34 722.92,107.85 731.26,96.36 739.61,84.87 747.97,73.38 756.35,61.89 764.73,50.4" stroke="#962aa0" stroke-width="1.65" stroke-dasharray="1.8 1.8"/>
<polyline points="362.47,728.3 369.76,716.81 377.06,705.32 384.39,693.83 391.73,682.34 399.08,670.85 406.46,659.36 413.85,647.87 421.27,636.38 428.69,624.89 436.14,613.4 443.6,601.91 451.08,590.42 458.58,578.93 466.1,567.44 473.63,555.95 481.17,544.46 488.74,532.97 496.32,521.48 503.92,509.99 511.53,498.5 519.16,487.01 526.8,475.52 534.46,464.03 542.14,452.54 549.83,441.06 557.54,429.57 565.27,418.08 573.01,406.59 580.76,395.1 588.53,383.61 596.31,372.12 604.12,360.63 611.93,349.14 619.76,337.65 627.6,326.16 635.46,314.67 643.34,303.18 651.23,291.69 659.13,280.2 667.05,268.71 674.98,257.22 682.93,245.73 690.88,234.24 698.86,222.75 706.85,211.26 714.85,199.77 722.86,188.28 730.89,176.79 738.94,165.3 746.99,153.81 755.06,142.32 763.14,130.83 771.24,119.34 779.35,107.85 787.47,96.36 795.61,84.87 803.76,73.38 811.92,61.89 820.09,50.4" stroke="#c285ca" stroke-width="1.25"/>
<polyline points="362.47,728.3 369.76,716.81 377.06,705.32 384.39,693.83 391.73,682.34 399.08,670.85 406.46,659.36 413.85,647.87 421.27,636.38 428.69,624.89 436.14,613.4 443.6,601.91 451.08,590.42 458.58,578.93 466.1,567.44 473.63,555.95 481.17,544.46 488.74,532.97 496.32,521.48 503.92,509.99 511.53,498.5 519.16,487.01 526.8,475.52 534.46,464.03 542.14,452.54 549.83,441.06 557.54,429.57 565.27,418.08 573.01,406.59 580.76,395.1 588.53,383.61 596.31,372.12 604.12,360.63 611.93,349.14 619.76,337.65 627.6,326.16 635.46,314.67 643.34,303.18 651.23,291.69 659.13,280.2 667.05,268.71 674.98,257.22 682.93,245.73 690.88,234.24 698.86,222.75 706.85,211.26 714.85,199.77 722.86,188.28 730.89,176.79 738.94,165.3 746.99,153.81 755.06,142.32 763.14,130.83 771.24,119.34 779.35,107.85 787.47,96.36 795.61,84.87 803.76,73.38 811.92,61.89 820.09,50.4" stroke="#962aa0" stroke-width="1.65" stroke-dasharray="1.8 1.8"/>
<polyline points="438.06,728.3 445.01,716.81 451.98,705.32 458.97,693.83 465.98,682.34 473.02,670.85 480.07,659.36 487.14,647.87 494.23,636.38 501.34,624.89 508.47,613.4 515.62,601.91 522.79,590.42 529.98,578.93 537.18,567.44 544.41,555.95 551.65,544.46 558.92,532.97 566.2,521.48 573.5,509.99 580.81,498.5 588.15,487.01 595.5,475.52 602.87,464.03 610.26,452.54 617.67,441.06 625.09,429.57 632.53,418.08 639.99,406.59 647.46,395.1 654.95,383.61 662.46,372.12 669.99,360.63 677.53,349.14 685.09,337.65 692.67,326.16 700.26,314.67 707.86,303.18 715.49,291.69 723.13,280.2 730.79,268.71 738.46,257.22 746.15,245.73 753.85,234.24 761.57,222.75 769.3,211.26 777.05,199.77 784.82,188.28 792.6,176.79 800.39,165.3 808.2,153.81 816.03,142.32 823.87,130.83 831.72,119.34 839.59,107.85 847.48,96.36 855.38,84.87 863.29,73.38 871.22,61.89 879.16,50.4" stroke="#c285ca" stroke-width="1.25"/>
<polyline points="438.06,728.3 445.01,716.81 451.98,705.32 458.97,693.83 465.98,682.34 473.02,670.85 480.07,659.36 487.14,647.87 494.23,636.38 501.34,624.89 508.47,613.4 515.62,601.91 522.79,590.42 529.98,578.93 537.18,567.44 544.41,555.95 551.65,544.46 558.92,532.97 566.2,521.48 573.5,509.99 580.81,498.5 588.15,487.01 595.5,475.52 602.87,464.03 610.26,452.54 617.67,441.06 625.09,429.57 632.53,418.08 639.99,406.59 647.46,395.1 654.95,383.61 662.46,372.12 669.99,360.63 677.53,349.14 685.09,337.65 692.67,326.16 700.26,314.67 707.86,303.18 715.49,291.69 723.13,280.2 730.79,268.71 738.46,257.22 746.15,245.73 753.85,234.24 761.57,222.75 769.3,211.26 777.05,199.77 784.82,188.28 792.6,176.79 800.39,165.3 808.2,153.81 816.03,142.32 823.87,130.83 831.72,119.34 839.59,107.85 847.48,96.36 855.38,84.87 863.29,73.38 871.22,61.89 879.16,50.4" stroke="#962aa0" stroke-width="1.65" stroke-dasharray="1.8 1.8"/>
<polyline points="503.29,728.3 509.94,716.81 516.61,705.32 523.31,693.83 530.03,682.34 536.77,670.85 543.53,659.36 550.31,647.87 557.12,636.38 563.95,624.89 570.8,613.4 577.67,601.91 584.56,590.42 591.47,578.93 598.4,567.44 605.35,555.95 612.33,544.46 619.32,532.97 626.33,521.48 633.37,509.99 640.42,498.5 647.49,487.01 654.59,475.52 661.7,464.03 668.83,452.54 675.98,441.06 683.15,429.57 690.34,418.08 697.55,406.59 704.77,395.1 712.02,383.61 719.28,372.12 726.57,360.63 733.87,349.14 741.18,337.65 748.52,326.16 755.88,314.67 763.25,303.18 770.64,291.69 778.04,280.2 785.47,268.71 792.91,257.22 800.37,245.73 807.85,234.24 815.34,222.75 822.85,211.26 830.38,199.77 837.92,188.28 845.48,176.79 853.06,165.3 860.65,153.81 868.26,142.32 875.89,130.83 883.53,119.34 891.18,107.85 898.86,96.36 906.55,84.87 914.25,73.38 921.97,61.89 929.71,50.4" stroke="#c285ca" stroke-width="1.25"/>
<polyline points="503.29,728.3 509.94,716.81 516.61,705.32 523.31,693.83 530.03,682.34 536.77,670.85 543.53,659.36 550.31,647.87 557.12,636.38 563.95,624.89 570.8,613.4 577.67,601.91 584.56,590.42 591.47,578.93 598.4,567.44 605.35,555.95 612.33,544.46 619.32,532.97 626.33,521.48 633.37,509.99 640.42,498.5 647.49,487.01 654.59,475.52 661.7,464.03 668.83,452.54 675.98,441.06 683.15,429.57 690.34,418.08 697.55,406.59 704.77,395.1 712.02,383.61 719.28,372.12 726.57,360.63 733.87,349.14 741.18,337.65 748.52,326.16 755.88,314.67 763.25,303.18 770.64,291.69 778.04,280.2 785.47,268.71 792.91,257.22 800.37,245.73 807.85,234.24 815.34,222.75 822.85,211.26 830.38,199.77 837.92,188.28 845.48,176.79 853.06,165.3 860.65,153.81 868.26,142.32 875.89,130.83 883.53,119.34 891.18,107.85 898.86,96.36 906.55,84.87 914.25,73.38 921.97,61.89 929.71,50.4" stroke="#962aa0" stroke-width="1.65" stroke-dasharray="1.8 1.8"/>
<polyline points="546.91,728.3 553.36,716.81 559.83,705.32 566.32,693.83 572.84,682.34 579.38,670.85 585.94,659.36 592.53,647.87 599.14,636.38 605.77,624.89 612.43,613.4 619.1,601.91 625.8,590.42 632.53,578.93 639.27,567.44 646.04,555.95 652.82,544.46 659.63,532.97 666.47,521.48 673.32,509.99 680.19,498.5 687.08,487.01 694,475.52 700.94,464.03 707.89,452.54 714.87,441.06 721.86,429.57 728.88,418.08 735.92,406.59 742.98,395.1 750.05,383.61 757.15,372.12 764.26,360.63 771.4,349.14 778.55,337.65 785.73,326.16 792.92,314.67 800.13,303.18 807.36,291.69 814.61,280.2 821.88,268.71 829.16,257.22 836.46,245.73 843.79,234.24 851.12,222.75 858.48,211.26 865.86,199.77 873.25,188.28 880.66,176.79 888.09,165.3 895.53,153.81 902.99,142.32 910.47,130.83 917.97,119.34 925.48,107.85 933.01,96.36 940.56,84.87 948.12,73.38 955.7,61.89 963.3,50.4" stroke="#c285ca" stroke-width="1.25"/>
<polyline points="546.91,728.3 553.36,716.81 559.83,705.32 566.32,693.83 572.84,682.34 579.38,670.85 585.94,659.36 592.53,647.87 599.14,636.38 605.77,624.89 612.43,613.4 619.1,601.91 625.8,590.42 632.53,578.93 639.27,567.44 646.04,555.95 652.82,544.46 659.63,532.97 666.47,521.48 673.32,509.99 680.19,498.5 687.08,487.01 694,475.52 700.94,464.03 707.89,452.54 714.87,441.06 721.86,429.57 728.88,418.08 735.92,406.59 742.98,395.1 750.05,383.61 757.15,372.12 764.26,360.63 771.4,349.14 778.55,337.65 785.73,326.16 792.92,314.67 800.13,303.18 807.36,291.69 814.61,280.2 821.88,268.71 829.16,257.22 836.46,245.73 843.79,234.24 851.12,222.75 858.48,211.26 865.86,199.77 873.25,188.28 880.66,176.79 888.09,165.3 895.53,153.81 902.99,142.32 910.47,130.83 917.97,119.34 925.48,107.85 933.01,96.36 940.56,84.87 948.12,73.38 955.7,61.89 963.3,50.4" stroke="#962aa0" stroke-width="1.65" stroke-dasharray="1.8 1.8"/>
<polyline points="606.86,728.3 613.02,716.81 619.2,705.32 625.41,693.83 631.64,682.34 637.9,670.85 644.19,659.36 650.49,647.87 656.83,636.38 663.19,624.89 669.57,613.4 675.98,601.91 682.41,590.42 688.87,578.93 695.35,567.44 701.85,555.95 708.38,544.46 714.93,532.97 721.51,521.48 728.1,509.99 734.72,498.5 741.37,487.01 748.03,475.52 754.72,464.03 761.43,452.54 768.16,441.06 774.92,429.57 781.69,418.08 788.49,406.59 795.31,395.1 802.15,383.61 809.01,372.12 815.89,360.63 822.8,349.14 829.72,337.65 836.67,326.16 843.63,314.67 850.62,303.18 857.62,291.69 864.65,280.2 871.69,268.71 878.76,257.22 885.85,245.73 892.95,234.24 900.07,222.75 907.22,211.26 914.38,199.77 921.56,188.28 928.76,176.79 935.98,165.3 943.22,153.81 950.48,142.32 957.75,130.83 965.05,119.34 972.36,107.85 979.69,96.36 987.03,84.87 994.4,73.38 1001.78,61.89 1009.18,50.4" stroke="#c285ca" stroke-width="1.25"/>
<polyline points="606.86,728.3 613.02,716.81 619.2,705.32 625.41,693.83 631.64,682.34 637.9,670.85 644.19,659.36 650.49,647.87 656.83,636.38 663.19,624.89 669.57,613.4 675.98,601.91 682.41,590.42 688.87,578.93 695.35,567.44 701.85,555.95 708.38,544.46 714.93,532.97 721.51,521.48 728.1,509.99 734.72,498.5 741.37,487.01 748.03,475.52 754.72,464.03 761.43,452.54 768.16,441.06 774.92,429.57 781.69,418.08 788.49,406.59 795.31,395.1 802.15,383.61 809.01,372.12 815.89,360.63 822.8,349.14 829.72,337.65 836.67,326.16 843.63,314.67 850.62,303.18 857.62,291.69 864.65,280.2 871.69,268.71 878.76,257.22 885.85,245.73 892.95,234.24 900.07,222.75 907.22,211.26 914.38,199.77 921.56,188.28 928.76,176.79 935.98,165.3 943.22,153.81 950.48,142.32 957.75,130.83 965.05,119.34 972.36,107.85 979.69,96.36 987.03,84.87 994.4,73.38 1001.78,61.89 1009.18,50.4" stroke="#962aa0" stroke-width="1.65" stroke-dasharray="1.8 1.8"/>
<polyline points="660.78,728.3 666.67,716.81 672.59,705.32 678.53,693.83 684.5,682.34 690.5,670.85 696.53,659.36 702.58,647.87 708.66,636.38 714.77,624.89 720.9,613.4 727.06,601.91 733.25,590.42 739.46,578.93 745.7,567.44 751.96,555.95 758.25,544.46 764.56,532.97 770.9,521.48 777.26,509.99 783.65,498.5 790.06,487.01 796.5,475.52 802.96,464.03 809.44,452.54 815.95,441.06 822.48,429.57 829.03,418.08 835.61,406.59 842.21,395.1 848.84,383.61 855.48,372.12 862.15,360.63 868.84,349.14 875.55,337.65 882.29,326.16 889.05,314.67 895.82,303.18 902.63,291.69 909.45,280.2 916.29,268.71 923.15,257.22 930.04,245.73 936.95,234.24 943.87,222.75 950.82,211.26 957.79,199.77 964.78,188.28 971.79,176.79 978.82,165.3 985.86,153.81 992.93,142.32 1000.02,130.83 1007.13,119.34 1014.25,107.85 1021.4,96.36 1028.57,84.87 1035.75,73.38 1042.95,61.89 1050.18,50.4" stroke="#c285ca" stroke-width="1.25"/>
<polyline points="660.78,728.3 666.67,716.81 672.59,705.32 678.53,693.83 684.5,682.34 690.5,670.85 696.53,659.36 702.58,647.87 708.66,636.38 714.77,624.89 720.9,613.4 727.06,601.91 733.25,590.42 739.46,578.93 745.7,567.44 751.96,555.95 758.25,544.46 764.56,532.97 770.9,521.48 777.26,509.99 783.65,498.5 790.06,487.01 796.5,475.52 802.96,464.03 809.44,452.54 815.95,441.06 822.48,429.57 829.03,418.08 835.61,406.59 842.21,395.1 848.84,383.61 855.48,372.12 862.15,360.63 868.84,349.14 875.55,337.65 882.29,326.16 889.05,314.67 895.82,303.18 902.63,291.69 909.45,280.2 916.29,268.71 923.15,257.22 930.04,245.73 936.95,234.24 943.87,222.75 950.82,211.26 957.79,199.77 964.78,188.28 971.79,176.79 978.82,165.3 985.86,153.81 992.93,142.32 1000.02,130.83 1007.13,119.34 1014.25,107.85 1021.4,96.36 1028.57,84.87 1035.75,73.38 1042.95,61.89 1050.18,50.4" stroke="#962aa0" stroke-width="1.65" stroke-dasharray="1.8 1.8"/>
<polyline points="700.19,728.3 705.88,716.81 711.59,705.32 717.34,693.83 723.12,682.34 728.92,670.85 734.76,659.36 740.62,647.87 746.51,636.38 752.43,624.89 758.38,613.4 764.35,601.91 770.36,590.42 776.39,578.93 782.44,567.44 788.53,555.95 794.64,544.46 800.77,532.97 806.93,521.48 813.12,509.99 819.34,498.5 825.58,487.01 831.84,475.52 838.13,464.03 844.45,452.54 850.79,441.06 857.15,429.57 863.54,418.08 869.95,406.59 876.39,395.1 882.85,383.61 889.34,372.12 895.85,360.63 902.38,349.14 908.94,337.65 915.52,326.16 922.12,314.67 928.75,303.18 935.39,291.69 942.06,280.2 948.76,268.71 955.47,257.22 962.21,245.73 968.97,234.24 975.75,222.75 982.55,211.26 989.38,199.77 996.22,188.28 1003.09,176.79 1009.97,165.3 1016.88,153.81 1023.81,142.32 1030.76,130.83 1037.73,119.34 1044.72,107.85 1051.73,96.36 1058.76,84.87 1065.81,73.38 1072.88,61.89 1079.97,50.4" stroke="#c285ca" stroke-width="1.25"/>
<polyline points="700.19,728.3 705.88,716.81 711.59,705.32 717.34,693.83 723.12,682.34 728.92,670.85 734.76,659.36 740.62,647.87 746.51,636.38 752.43,624.89 758.38,613.4 764.35,601.91 770.36,590.42 776.39,578.93 782.44,567.44 788.53,555.95 794.64,544.46 800.77,532.97 806.93,521.48 813.12,509.99 819.34,498.5 825.58,487.01 831.84,475.52 838.13,464.03 844.45,452.54 850.79,441.06 857.15,429.57 863.54,418.08 869.95,406.59 876.39,395.1 882.85,383.61 889.34,372.12 895.85,360.63 902.38,349.14 908.94,337.65 915.52,326.16 922.12,314.67 928.75,303.18 935.39,291.69 942.06,280.2 948.76,268.71 955.47,257.22 962.21,245.73 968.97,234.24 975.75,222.75 982.55,211.26 989.38,199.77 996.22,188.28 1003.09,176.79 1009.97,165.3 1016.88,153.81 1023.81,142.32 1030.76,130.83 1037.73,119.34 1044.72,107.85 1051.73,96.36 1058.76,84.87 1065.81,73.38 1072.88,61.89 1079.97,50.4" stroke="#962aa0" stroke-width="1.65" stroke-dasharray="1.8 1.8"/>
<polyline points="731.34,728.3 736.86,716.81 742.42,705.32 748.01,693.83 753.63,682.34 759.29,670.85 764.97,659.36 770.68,647.87 776.42,636.38 782.18,624.89 787.98,613.4 793.81,601.91 799.66,590.42 805.55,578.93 811.46,567.44 817.4,555.95 823.36,544.46 829.36,532.97 835.38,521.48 841.43,509.99 847.5,498.5 853.6,487.01 859.73,475.52 865.89,464.03 872.07,452.54 878.27,441.06 884.5,429.57 890.76,418.08 897.04,406.59 903.35,395.1 909.69,383.61 916.04,372.12 922.43,360.63 928.83,349.14 935.26,337.65 941.72,326.16 948.2,314.67 954.7,303.18 961.23,291.69 967.78,280.2 974.35,268.71 980.94,257.22 987.56,245.73 994.2,234.24 1000.87,222.75 1007.55,211.26 1014.26,199.77 1020.99,188.28 1027.75,176.79 1034.52,165.3 1041.32,153.81 1048.13,142.32 1054.97,130.83 1061.83,119.34 1068.71,107.85 1075.62,96.36 1082.54,84.87 1089.48,73.38 1096.45,61.89 1103.43,50.4" stroke="#c285ca" stroke-width="1.25"/>
<polyline points="731.34,728.3 736.86,716.81 742.42,705.32 748.01,693.83 753.63,682.34 759.29,670.85 764.97,659.36 770.68,647.87 776.42,636.38 782.18,624.89 787.98,613.4 793.81,601.91 799.66,590.42 805.55,578.93 811.46,567.44 817.4,555.95 823.36,544.46 829.36,532.97 835.38,521.48 841.43,509.99 847.5,498.5 853.6,487.01 859.73,475.52 865.89,464.03 872.07,452.54 878.27,441.06 884.5,429.57 890.76,418.08 897.04,406.59 903.35,395.1 909.69,383.61 916.04,372.12 922.43,360.63 928.83,349.14 935.26,337.65 941.72,326.16 948.2,314.67 954.7,303.18 961.23,291.69 967.78,280.2 974.35,268.71 980.94,257.22 987.56,245.73 994.2,234.24 1000.87,222.75 1007.55,211.26 1014.26,199.77 1020.99,188.28 1027.75,176.79 1034.52,165.3 1041.32,153.81 1048.13,142.32 1054.97,130.83 1061.83,119.34 1068.71,107.85 1075.62,96.36 1082.54,84.87 1089.48,73.38 1096.45,61.89 1103.43,50.4" stroke="#962aa0" stroke-width="1.65" stroke-dasharray="1.8 1.8"/>
<line x1="405.6" y1="177.4" x2="225.48" y2="357.7" stroke="#1c1c9c" stroke-width="1.8"/>
<line x1="550.43" y1="237" x2="289.69" y2="498" stroke="#1c1c9c" stroke-width="1.8"/>
<line x1="615.12" y1="295" x2="362.07" y2="548.3" stroke="#1c1c9c" stroke-width="1.8"/>
<line x1="640.92" y1="351" x2="419.84" y2="572.3" stroke="#1c1c9c" stroke-width="1.8"/>
<line x1="678.73" y1="435.9" x2="506.9" y2="607.9" stroke="#1c1c9c" stroke-width="1.8"/>
<path d="M100 50.4H794.8M100 167.3H794.8M100 250.23H794.8M100 314.57H794.8M100 367.13H794.8M100 411.57H794.8M100 450.07H794.8M100 484.03H794.8M100 514.4H794.8M100 541.88H794.8M100 566.96H794.8M100 590.04H794.8M100 611.41H794.8M100 631.3H794.8M100 649.9H794.8M100 667.38H794.8M100 683.86H794.8M100 699.45H794.8M100 714.24H794.8M100 728.3H794.8" stroke="#4040ac" stroke-width="1.7"/>
</g>
<rect x="100" y="50.4" width="694.8" height="677.8" fill="none" stroke="#4040ac" stroke-width="1.75"/>
<g fill="none" stroke-linejoin="round" stroke-linecap="round">
<polyline points="140.21,50.5 142.5,60.1 144.92,69.7 147.48,79.3 150.17,88.9 153,98.5 155.96,108.11 159.05,117.71 162.29,127.31 165.66,136.91 169.16,146.51 172.81,156.11 176.59,165.71 180.51,175.31 184.57,184.91 188.77,194.51 193.11,204.11 197.59,213.72 202.21,223.32 206.98,232.92 211.88,242.52 216.93,252.12 222.12,261.72 227.45,271.32 232.93,280.92 238.55,290.52 244.31,300.12 250.21,309.72 256.24,319.32 262.42,328.93 268.73,338.53 275.17,348.13 281.74,357.73 288.44,367.33 295.25,376.93 302.18,386.53 309.21,396.13 316.33,405.73 323.55,415.33 330.83,424.93 338.18,434.54 345.57,444.14 352.98,453.74 360.41,463.34 367.83,472.94 375.21,482.54 382.54,492.14 389.8,501.74 396.95,511.34 403.98,520.94 410.87,530.54 417.6,540.15 424.14,549.75 430.48,559.35 436.61,568.95 442.5,578.55 448.16,588.15 453.58,597.75 458.74,607.35 463.65,616.95 524.2,667.8" stroke="#6e6e6e" stroke-width="2"/>
<polyline points="642.1,50.3 631.8,58.9 628.4,69.2 624.9,80.4 620.6,84.7 576.8,127.7 540.6,161.3 534.1,168.1 530,177.6 516.5,185.7 486.8,201.9 454.3,220.8 448.9,228.9 443.5,234.3 422.2,245.1 407.8,251.4 399.8,261 390.3,272.2 382.3,283.4 378.3,289 375.9,299.4 373.5,303.2 371.1,311.2 371.1,316 374.3,325.6 380.7,338.3 387.1,355.9 389.5,363.1 386.3,366.3 388.7,371.9 398.2,389.4 407.8,408.6 417.4,429.4 427.9,446 439.1,468.3 448.7,484.3 455,495.5 458.2,505 463,514.6 469.4,521 471.8,529 476.6,559.4 484.3,591.9 486.7,603.1 489,611.1 489.8,627.1 522.6,660.6 512.2,662.2 499.4,665.7 493.8,668.6" stroke="#000" stroke-width="3.3"/>
<polyline points="463.6,50.3 461.1,62.4 460.2,80.4 456.8,88.2 445.6,114 434.4,138 424.1,160.4 418.9,168.1 420.6,173.3 423,178 419,184.4 406.2,193.2 395.1,202.7 382.3,213.1 371.9,221.1 371.1,234.7 350.3,247.5 345.2,249.8 344,270.6 344,299.4 339.2,302.4 336,309.6 334.4,316 337.6,324 350.3,347.9 358.3,363.1 353.5,367.1 356.7,371.9 366.3,386.2 380.7,403.8 390.3,418.2 393.5,421.4 396,430 402.4,449.2 405.6,462 411.9,469.9 418.3,493.9 423.9,503.5 424.7,514.6 432.7,533.8 441.5,559.4 450.7,587.1 456.5,602.2 459.2,611.5 452,615.4 445.4,620.4 439.9,625.4 437.7,634.2 433.3,648.6 430.5,657.4 436.6,659.6 450.9,665.1 458.7,668.5" stroke="#000" stroke-width="3.3"/>
</g>
<g fill="none" stroke="#1a1a1a" stroke-width="1.15" stroke-linejoin="miter" stroke-linecap="round"><path d="M851.4 50.3L820.0 28.9M820.0 28.9l3.1 -12.3M825.0 32.4l3.1 -12.3M830.1 35.8l1.6 -6.2"/><path d="M851.4 83.3L813.6 79.6M813.6 79.6l-3.2 -12.3M819.7 80.2l-3.2 -12.3M825.7 80.8l-3.2 -12.3"/><path d="M851.4 133.8L822.4 109.3M822.4 109.3l4.4 -11.9M827.0 113.2l4.4 -11.9M831.7 117.2l4.4 -11.9M836.3 121.1l2.2 -6.0"/><path d="M851.4 152.0L818.5 133.0M828.6 138.9l1.1 -6.3"/><path d="M818.5 133.0L825.5 123.3L823.3 135.8Z"/><path d="M851.4 167.4L822.0 143.4M831.0 150.8l4.2 -12.0M835.8 154.6l4.2 -12.0"/><path d="M822.0 143.4L830.5 134.9L826.3 146.9Z"/><path d="M851.4 180.1L818.1 161.8M828.4 167.4l2.0 -12.5M833.7 170.4l2.0 -12.5M839.0 173.3l1.0 -6.3"/><path d="M818.1 161.8L825.0 151.9L823.0 164.5Z"/><path d="M851.4 211.9L818.3 193.2M828.5 198.9l2.1 -12.5"/><path d="M818.3 193.2L825.3 183.4L823.2 195.9Z"/><path d="M851.4 251.2L827.2 221.9M834.6 230.9l6.4 -11.0M838.5 235.6l6.4 -11.0M842.4 240.3l3.2 -5.5"/><path d="M827.2 221.9L837.2 215.3L830.7 226.2Z"/><path d="M851.4 314.6L829.5 283.6"/><path d="M829.5 283.6L839.9 277.7L832.7 288.1Z"/><path d="M836.2 293.1L846.7 287.3L839.5 297.7Z"/><path d="M851.4 328.8L825.8 292.2M832.5 301.7l7.3 -10.4M836.0 306.7l7.3 -10.4M839.5 311.7l7.3 -10.4M843.0 316.7l7.3 -10.4M846.5 321.8l7.3 -10.4"/><path d="M825.8 292.2L836.3 286.4L829.0 296.7Z"/><path d="M851.4 367.4L827.0 338.3"/><path d="M827.0 338.3L836.9 331.6L830.6 342.6Z"/><path d="M834.5 347.3L844.4 340.5L838.1 351.6Z"/><path d="M851.4 397.5L824.1 371.0M832.5 379.2l5.2 -11.6M836.9 383.4l5.2 -11.6M841.3 387.7l5.2 -11.6M845.7 391.9l2.6 -5.8"/><path d="M824.1 371.0L833.3 363.3L828.1 374.9Z"/><path d="M851.4 408.9L824.2 382.3M832.6 390.5l5.2 -11.6M837.0 394.8l5.2 -11.6M841.3 399.0l2.6 -5.8"/><path d="M824.2 382.3L833.5 374.7L828.2 386.3Z"/><path d="M851.4 427.9L824.5 401.0M832.8 409.3l5.4 -11.5M837.1 413.6l5.4 -11.5M841.4 417.9l2.7 -5.8"/><path d="M824.5 401.0L833.9 393.5L828.5 405.0Z"/><path d="M851.4 450.4L824.4 423.6M832.7 431.9l5.3 -11.5M837.1 436.2l5.3 -11.5"/><path d="M824.4 423.6L833.7 416.0L828.4 427.6Z"/><path d="M851.4 466.6L822.1 442.4M831.1 449.8l4.3 -12.0M835.8 453.7l2.1 -6.0"/><path d="M822.1 442.4L830.7 434.0L826.4 446.0Z"/><path d="M851.4 491.5L819.9 470.2M829.6 476.8l3.1 -12.3M834.7 480.2l3.1 -12.3"/><path d="M819.9 470.2L827.6 461.0L824.6 473.4Z"/><path d="M851.4 513.6L818.3 494.9M828.5 500.6l2.1 -12.5M833.8 503.6l1.1 -6.3"/><path d="M818.3 494.9L825.3 485.1L823.2 497.6Z"/><path d="M851.4 548.0L818.6 528.9"/><path d="M818.6 528.9L825.6 519.2L823.4 531.7Z"/><path d="M851.4 567.6L818.3 548.9"/><path d="M818.3 548.9L825.3 539.1L823.2 551.6Z"/><path d="M851.4 611.1L815.0 622.1M815.0 622.1l-7.6 -10.2M820.9 620.3l-7.6 -10.2M826.7 618.6l-7.6 -10.2M832.5 616.8l-7.6 -10.2"/><path d="M851.4 633.7L817.2 650.3M817.2 650.3l-9.1 -8.8M822.7 647.6l-9.1 -8.8"/><path d="M851.4 655.6L830.0 624.2M832.4 627.8l3.7 -5.2"/><path d="M851.4 667.8L884.2 687.0M880.5 684.9l-1.1 6.2"/></g>
<g class="t">
<text x="25.72" y="35.42" font-size="22.60" font-weight="bold" fill="#000" textLength="289.12" lengthAdjust="spacingAndGlyphs">72476 GJT Grand Junction</text>
<text x="26.64" y="789.40" font-size="22.60" font-weight="bold" fill="#000" textLength="175.85" lengthAdjust="spacingAndGlyphs">12Z 03 Dec 2023</text>
<text x="482.36" y="788.96" font-size="22.60" font-weight="bold" fill="#000" textLength="246.83" lengthAdjust="spacingAndGlyphs">University of Wyoming</text>
<text x="44.50" y="57.98" font-size="23.40" font-weight="normal" fill="#14148c" stroke="#14148c" stroke-width="0.55" textLength="35.93" lengthAdjust="spacingAndGlyphs">100</text>
<text x="43.00" y="257.46" font-size="23.40" font-weight="normal" fill="#14148c" stroke="#14148c" stroke-width="0.55" textLength="37.80" lengthAdjust="spacingAndGlyphs">200</text>
<text x="43.58" y="373.46" font-size="23.40" font-weight="normal" fill="#14148c" stroke="#14148c" stroke-width="0.55" textLength="37.39" lengthAdjust="spacingAndGlyphs">300</text>
<text x="43.94" y="457.62" font-size="23.40" font-weight="normal" fill="#14148c" stroke="#14148c" stroke-width="0.55" textLength="37.04" lengthAdjust="spacingAndGlyphs">400</text>
<text x="42.86" y="521.44" font-size="23.40" font-weight="normal" fill="#14148c" stroke="#14148c" stroke-width="0.55" textLength="37.67" lengthAdjust="spacingAndGlyphs">500</text>
<text x="42.42" y="574.08" font-size="23.40" font-weight="normal" fill="#14148c" stroke="#14148c" stroke-width="0.55" textLength="38.45" lengthAdjust="spacingAndGlyphs">600</text>
<text x="43.22" y="617.34" font-size="23.40" font-weight="normal" fill="#14148c" stroke="#14148c" stroke-width="0.55" textLength="37.19" lengthAdjust="spacingAndGlyphs">700</text>
<text x="42.64" y="656.48" font-size="23.40" font-weight="normal" fill="#14148c" stroke="#14148c" stroke-width="0.55" textLength="37.45" lengthAdjust="spacingAndGlyphs">800</text>
<text x="42.64" y="690.44" font-size="23.40" font-weight="normal" fill="#14148c" stroke="#14148c" stroke-width="0.55" textLength="37.45" lengthAdjust="spacingAndGlyphs">900</text>
<text x="29.50" y="720.52" font-size="23.40" font-weight="normal" fill="#14148c" stroke="#14148c" stroke-width="0.55" textLength="47.93" lengthAdjust="spacingAndGlyphs">1000</text>
<text x="79.14" y="761.80" font-size="22.20" font-weight="normal" fill="#14148c" stroke="#14148c" stroke-width="0.55" textLength="33.95" lengthAdjust="spacingAndGlyphs">-40</text>
<text x="161.00" y="761.80" font-size="22.20" font-weight="normal" fill="#14148c" stroke="#14148c" stroke-width="0.55" textLength="33.21" lengthAdjust="spacingAndGlyphs">-30</text>
<text x="243.00" y="761.80" font-size="22.20" font-weight="normal" fill="#14148c" stroke="#14148c" stroke-width="0.55" textLength="34.47" lengthAdjust="spacingAndGlyphs">-20</text>
<text x="324.72" y="761.80" font-size="22.20" font-weight="normal" fill="#14148c" stroke="#14148c" stroke-width="0.55" textLength="33.52" lengthAdjust="spacingAndGlyphs">-10</text>
<text x="420.00" y="761.80" font-size="22.20" font-weight="normal" fill="#14148c" stroke="#14148c" stroke-width="0.55" textLength="13.36" lengthAdjust="spacingAndGlyphs">0</text>
<text x="496.00" y="761.80" font-size="22.20" font-weight="normal" fill="#14148c" stroke="#14148c" stroke-width="0.55" textLength="24.79" lengthAdjust="spacingAndGlyphs">10</text>
<text x="576.00" y="761.80" font-size="22.20" font-weight="normal" fill="#14148c" stroke="#14148c" stroke-width="0.55" textLength="25.76" lengthAdjust="spacingAndGlyphs">20</text>
<text x="659.08" y="761.80" font-size="22.20" font-weight="normal" fill="#14148c" stroke="#14148c" stroke-width="0.55" textLength="24.82" lengthAdjust="spacingAndGlyphs">30</text>
<text x="741.08" y="761.80" font-size="22.20" font-weight="normal" fill="#14148c" stroke="#14148c" stroke-width="0.55" textLength="24.82" lengthAdjust="spacingAndGlyphs">40</text>
<text x="910.78" y="73.20" font-size="16.20" font-weight="normal" fill="#2e2e2e" textLength="39.19" lengthAdjust="spacingAndGlyphs">SLAT</text>
<text x="910.78" y="92.03" font-size="16.20" font-weight="normal" fill="#2e2e2e" textLength="42.69" lengthAdjust="spacingAndGlyphs">SLON</text>
<text x="910.78" y="110.86" font-size="16.20" font-weight="normal" fill="#2e2e2e" textLength="39.09" lengthAdjust="spacingAndGlyphs">SELV</text>
<text x="910.78" y="129.69" font-size="16.20" font-weight="normal" fill="#2e2e2e" textLength="45.77" lengthAdjust="spacingAndGlyphs">SHOW</text>
<text x="909.98" y="148.52" font-size="16.20" font-weight="normal" fill="#2e2e2e" textLength="31.50" lengthAdjust="spacingAndGlyphs">LIFT</text>
<text x="909.98" y="167.35" font-size="16.20" font-weight="normal" fill="#2e2e2e" textLength="38.08" lengthAdjust="spacingAndGlyphs">LFTV</text>
<text x="910.78" y="186.18" font-size="16.20" font-weight="normal" fill="#2e2e2e" textLength="41.36" lengthAdjust="spacingAndGlyphs">SWET</text>
<text x="910.78" y="205.01" font-size="16.20" font-weight="normal" fill="#2e2e2e" textLength="34.82" lengthAdjust="spacingAndGlyphs">KINX</text>
<text x="910.78" y="223.84" font-size="16.20" font-weight="normal" fill="#2e2e2e" textLength="39.73" lengthAdjust="spacingAndGlyphs">CTOT</text>
<text x="911.58" y="242.67" font-size="16.20" font-weight="normal" fill="#2e2e2e" textLength="39.12" lengthAdjust="spacingAndGlyphs">VTOT</text>
<text x="911.58" y="261.50" font-size="16.20" font-weight="normal" fill="#2e2e2e" textLength="36.31" lengthAdjust="spacingAndGlyphs">TOTL</text>
<text x="910.78" y="280.33" font-size="16.20" font-weight="normal" fill="#2e2e2e" textLength="42.50" lengthAdjust="spacingAndGlyphs">CAPE</text>
<text x="910.78" y="299.16" font-size="16.20" font-weight="normal" fill="#2e2e2e" textLength="42.90" lengthAdjust="spacingAndGlyphs">CAPV</text>
<text x="910.78" y="317.99" font-size="16.20" font-weight="normal" fill="#2e2e2e" textLength="36.43" lengthAdjust="spacingAndGlyphs">CINS</text>
<text x="910.78" y="336.82" font-size="16.20" font-weight="normal" fill="#2e2e2e" textLength="36.95" lengthAdjust="spacingAndGlyphs">CINV</text>
<text x="909.98" y="355.65" font-size="16.20" font-weight="normal" fill="#2e2e2e" textLength="42.06" lengthAdjust="spacingAndGlyphs">EQLV</text>
<text x="909.98" y="374.48" font-size="16.20" font-weight="normal" fill="#2e2e2e" textLength="42.07" lengthAdjust="spacingAndGlyphs">EQTV</text>
<text x="909.98" y="393.31" font-size="16.20" font-weight="normal" fill="#2e2e2e" textLength="38.95" lengthAdjust="spacingAndGlyphs">LFCT</text>
<text x="909.98" y="412.14" font-size="16.20" font-weight="normal" fill="#2e2e2e" textLength="40.68" lengthAdjust="spacingAndGlyphs">LFCV</text>
<text x="909.98" y="430.97" font-size="16.20" font-weight="normal" fill="#2e2e2e" textLength="43.48" lengthAdjust="spacingAndGlyphs">BRCH</text>
<text x="909.98" y="449.80" font-size="16.20" font-weight="normal" fill="#2e2e2e" textLength="42.37" lengthAdjust="spacingAndGlyphs">BRCV</text>
<text x="909.98" y="468.63" font-size="16.20" font-weight="normal" fill="#2e2e2e" textLength="37.85" lengthAdjust="spacingAndGlyphs">LCLT</text>
<text x="909.98" y="487.46" font-size="16.20" font-weight="normal" fill="#2e2e2e" textLength="39.35" lengthAdjust="spacingAndGlyphs">LCLP</text>
<text x="909.98" y="506.29" font-size="16.20" font-weight="normal" fill="#2e2e2e" textLength="38.23" lengthAdjust="spacingAndGlyphs">LCLE</text>
<text x="909.98" y="525.12" font-size="16.20" font-weight="normal" fill="#2e2e2e" textLength="43.58" lengthAdjust="spacingAndGlyphs">MLTH</text>
<text x="909.98" y="543.95" font-size="16.20" font-weight="normal" fill="#2e2e2e" textLength="47.94" lengthAdjust="spacingAndGlyphs">MLMR</text>
<text x="911.58" y="562.78" font-size="16.20" font-weight="normal" fill="#2e2e2e" textLength="40.30" lengthAdjust="spacingAndGlyphs">THCK</text>
<text x="909.98" y="581.61" font-size="16.20" font-weight="normal" fill="#2e2e2e" textLength="44.82" lengthAdjust="spacingAndGlyphs">PWAT</text>
<text x="103.98" y="56.00" font-size="16.60" font-weight="normal" fill="#222222" textLength="58.87" lengthAdjust="spacingAndGlyphs">16130 m</text>
<text x="103.90" y="455.33" font-size="16.60" font-weight="normal" fill="#222222" textLength="50.07" lengthAdjust="spacingAndGlyphs">7180 m</text>
<text x="103.90" y="615.33" font-size="16.60" font-weight="normal" fill="#222222" textLength="50.07" lengthAdjust="spacingAndGlyphs">3026 m</text>
<text x="204.84" y="718.62" font-size="16.60" font-weight="normal" fill="#a030a8" textLength="19.64" lengthAdjust="spacingAndGlyphs">0.4</text>
<text x="545.06" y="718.62" font-size="16.60" font-weight="normal" fill="#a030a8" textLength="16.98" lengthAdjust="spacingAndGlyphs">10</text>
<text x="604.02" y="718.62" font-size="16.60" font-weight="normal" fill="#a030a8" textLength="17.19" lengthAdjust="spacingAndGlyphs">16</text>
<text x="657.90" y="718.62" font-size="16.60" font-weight="normal" fill="#a030a8" textLength="16.10" lengthAdjust="spacingAndGlyphs">24</text>
<text x="695.92" y="718.62" font-size="16.60" font-weight="normal" fill="#a030a8" textLength="17.10" lengthAdjust="spacingAndGlyphs">32</text>
<text x="706.44" y="718.34" font-size="16.60" font-weight="normal" fill="#a030a8" textLength="52.73" lengthAdjust="spacingAndGlyphs">40g/kg</text>
<text x="103.90" y="171.8" font-size="16.6" fill="#222222" transform="translate(103.9 0) scale(0.9044 1) translate(-103.9 0)">13520 m</text>
<text x="103.90" y="254.63" font-size="16.6" fill="#222222" transform="translate(103.9 0) scale(0.9044 1) translate(-103.9 0)">11700 m</text>
<text x="103.90" y="318.97" font-size="16.6" fill="#222222" transform="translate(103.9 0) scale(0.9044 1) translate(-103.9 0)">10310 m</text>
<text x="103.90" y="371.43" font-size="16.6" fill="#222222" transform="translate(103.9 0) scale(0.9044 1) translate(-103.9 0)">9130 m</text>
<text x="103.90" y="518.2" font-size="16.6" fill="#222222" transform="translate(103.9 0) scale(0.9044 1) translate(-103.9 0)">5580 m</text>
<text x="103.90" y="670.58" font-size="16.6" fill="#222222" transform="translate(103.9 0) scale(0.9044 1) translate(-103.9 0)">1481 m</text>
<text x="103.90" y="694.56" font-size="16.6" fill="#222222" transform="translate(103.9 0) scale(0.9044 1) translate(-103.9 0)">795 m</text>
<text x="103.90" y="717.04" font-size="16.6" fill="#222222" transform="translate(103.9 0) scale(0.9044 1) translate(-103.9 0)">153 m</text>
<text x="297.20" y="718.34" font-size="16.6" fill="#a030a8" transform="translate(297.20 0) scale(0.9201 1) translate(-297.20 0)">1</text>
<text x="365.20" y="718.34" font-size="16.6" fill="#a030a8" transform="translate(365.20 0) scale(0.9201 1) translate(-365.20 0)">2</text>
<text x="439.90" y="718.34" font-size="16.6" fill="#a030a8" transform="translate(439.90 0) scale(0.9201 1) translate(-439.90 0)">4</text>
<text x="507.00" y="718.34" font-size="16.6" fill="#a030a8" transform="translate(507.00 0) scale(0.9201 1) translate(-507.00 0)">7</text>
<text x="964.6" y="73.2" font-size="16.2" fill="#2e2e2e">39.11</text>
<text x="963.6" y="92.03" font-size="16.2" fill="#2e2e2e">-108.53</text>
<text x="964.6" y="110.86" font-size="16.2" fill="#2e2e2e">1475.</text>
<text x="964.6" y="129.69" font-size="16.2" fill="#2e2e2e">9.35</text>
<text x="964.6" y="148.52" font-size="16.2" fill="#2e2e2e">7.92</text>
<text x="964.6" y="167.35" font-size="16.2" fill="#2e2e2e">7.96</text>
<text x="964.6" y="186.18" font-size="16.2" fill="#2e2e2e">80.98</text>
<text x="964.6" y="205.01" font-size="16.2" fill="#2e2e2e">15.00</text>
<text x="964.6" y="223.84" font-size="16.2" fill="#2e2e2e">17.70</text>
<text x="964.6" y="242.67" font-size="16.2" fill="#2e2e2e">22.70</text>
<text x="964.6" y="261.5" font-size="16.2" fill="#2e2e2e">40.40</text>
<text x="964.6" y="280.33" font-size="16.2" fill="#2e2e2e">0.00</text>
<text x="964.6" y="299.16" font-size="16.2" fill="#2e2e2e">0.00</text>
<text x="964.6" y="317.99" font-size="16.2" fill="#2e2e2e">0.00</text>
<text x="964.6" y="336.82" font-size="16.2" fill="#2e2e2e">0.00</text>
<text x="963.6" y="355.65" font-size="16.2" fill="#2e2e2e">-9999</text>
<text x="963.6" y="374.48" font-size="16.2" fill="#2e2e2e">-9999</text>
<text x="963.6" y="393.31" font-size="16.2" fill="#2e2e2e">-9999</text>
<text x="963.6" y="412.14" font-size="16.2" fill="#2e2e2e">-9999</text>
<text x="964.6" y="430.97" font-size="16.2" fill="#2e2e2e">0.00</text>
<text x="964.6" y="449.8" font-size="16.2" fill="#2e2e2e">0.00</text>
<text x="964.6" y="468.63" font-size="16.2" fill="#2e2e2e">264.2</text>
<text x="964.6" y="487.46" font-size="16.2" fill="#2e2e2e">715.3</text>
<text x="964.6" y="506.29" font-size="16.2" fill="#2e2e2e">299.0</text>
<text x="964.6" y="525.12" font-size="16.2" fill="#2e2e2e">290.8</text>
<text x="964.6" y="543.95" font-size="16.2" fill="#2e2e2e">2.76</text>
<text x="964.6" y="562.78" font-size="16.2" fill="#2e2e2e">5427.</text>
<text x="964.6" y="581.61" font-size="16.2" fill="#2e2e2e">8.18</text>
</g>
</svg></body></html>
